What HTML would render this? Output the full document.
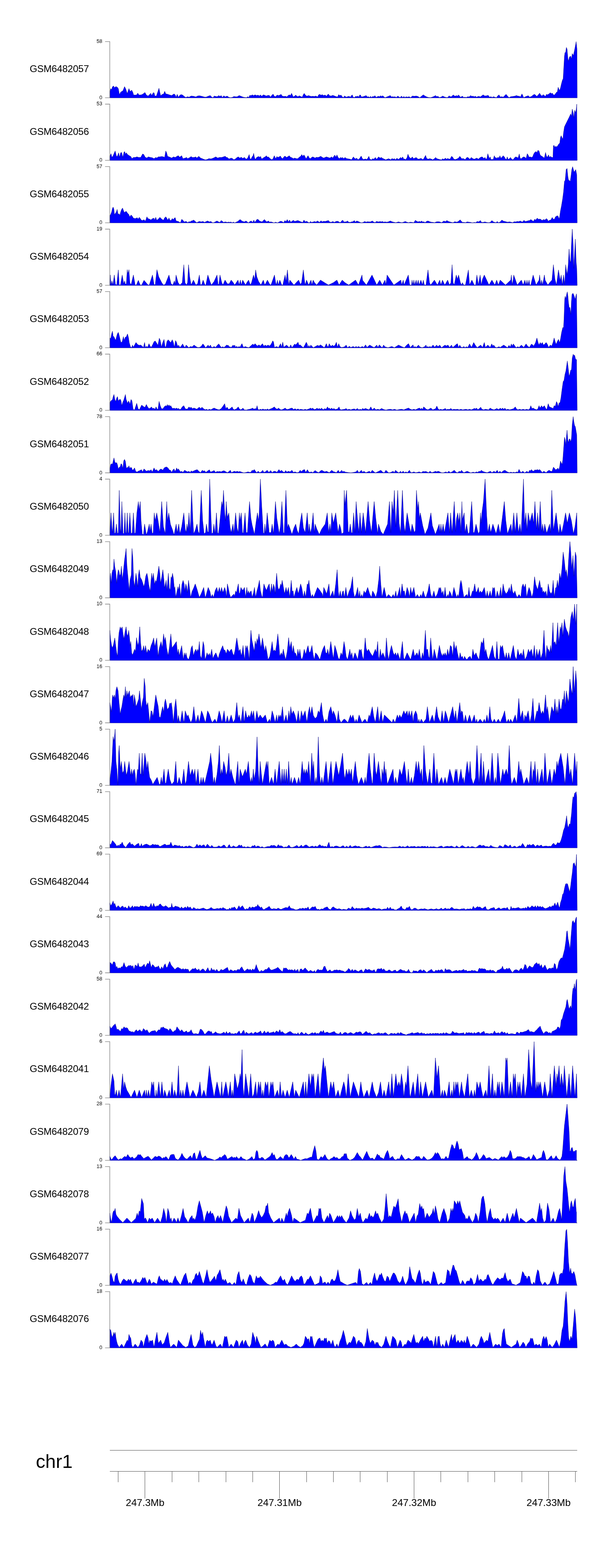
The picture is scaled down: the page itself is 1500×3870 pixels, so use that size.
<!DOCTYPE html><html><head><meta charset="utf-8"><title>Gviz tracks</title><style>html,body{margin:0;padding:0;background:#fff;}svg{display:block;}</style></head><body>
<svg width="1500" height="3870" viewBox="0 0 1500 3870">
<rect width="1500" height="3870" fill="#fff"/>
<g fill="#0000ff" stroke="#000080" stroke-width="0.7" stroke-linejoin="round">
<path d="M271,241.6L271,225.9L273.3,218.6L275.4,221.5L277.4,214.2L280.3,212.2L282.6,216.6L285.5,213.7L289,214.8L291.9,218.6L294.8,234L297.7,227.3L301.2,225.3L303.5,223.5L307.3,213.7L310.2,219.5L314,231.1L318.1,218.6L321,225.9L325,222.4L328,228.8L329.7,234.6L336.4,234.6L339.9,229.9L343.1,234.6L348.9,234L352.4,232.2L357.6,228.2L361.1,234.6L365.4,236.9L369.2,233.1L372.1,230.2L374.2,236L377.9,228.8L380.3,229.3L382,236.9L385.8,236.9L389.6,225.9L392.2,217.7L394.2,227.3L396.5,236.3L400.3,232.8L403.5,232.2L406.4,225.3L409,231.7L413.4,232.5L419.2,234.6L423.6,235.7L429.4,231.7L432.6,234.6L434.3,240.4L437.2,232.8L440.1,239.8L444.2,234.6L447.1,233.4L450.6,234.6L454.6,238.1L458.4,240.4L462.8,238.6L466.3,239.8L471.5,236.9L477.3,237.5L483.1,239.2L487.5,236.9L491.8,236.3L497.7,237.5L503.5,239.2L507.8,239.8L513.6,237.5L518.6,235.7L522.6,239.8L525.5,241L528.5,236.9L532.5,238.1L536,238.6L539.8,235.7L542.7,238.1L545.6,235.7L548.5,240.4L552.3,236.3L555.8,239.2L558.7,237.5L561,237.2L563.9,239.8L568.3,241L572.6,240.4L577,238.1L582.8,238.9L585.7,238.6L590.1,235.7L594.4,237.5L600.2,239.8L604.6,240.4L608.1,241L611,238.6L613.9,240.4L616.2,235.2L619.1,236L622.6,234L625.5,236L629.3,234L633.1,236L636.6,234.6L640,236.9L642.4,234L645.8,237.5L649.6,234L653.4,235.2L656.9,236.9L659.8,235.7L664.2,235.2L667.1,239.8L669.1,236.9L673.7,232.2L676.7,237.5L680.1,238.6L683.6,234.6L687.4,236L690.3,234.6L693.5,232.8L696.1,236.9L700.5,238.1L704,237.5L707.7,238.9L710.6,236L713.6,234L716.5,235.7L719.4,230.2L721.4,234.6L723.1,238.9L726.6,237.5L729.5,234.6L732.4,237.5L735.3,238.6L738.3,236.3L741.7,238.1L745.5,239.8L748.4,233.4L750.5,230.5L753.4,234.6L757.1,237.5L760.9,235.7L764.4,236.9L767.9,238.1L771.7,237.5L775.4,238.1L779.5,236.9L783.3,239.2L786.2,234L789.1,232.8L792,235.2L794.9,233.4L797.8,235.7L802.2,234.6L805.7,237.5L808,234L810.3,232.2L813.2,236.3L816.7,236.9L821.1,235.2L825.4,236.9L829.8,238.6L832.7,239.2L835.6,233.4L838.5,236L841.4,234.6L844.3,238.9L847.2,240.4L850.6,236.6L853.9,239.8L857.4,238.6L861.2,237.5L864.1,239.8L867,236L869,234L871.3,239.8L874.8,240.4L877.7,237.5L880.1,238.6L883,236.9L885.3,239.8L887.3,234.6L889.4,234.6L891.7,239.2L896,238.6L900.4,236.9L903.3,235.7L906.2,239.2L909.1,238.6L912,240.4L914.3,237.5L916.4,240.4L919.3,238.1L922.2,238.6L925.1,236L928,240.4L930.9,238.6L933.8,237.5L936.7,238.6L939.6,236L941.7,238.6L944,236L946.9,238.6L949.8,241L954.2,239.2L958.5,237.5L962.9,235.7L965.8,239.2L968.7,238.6L971.6,239.2L974.5,238.6L977.4,240.4L981.8,236.9L984.7,239.8L987.6,240.4L990.5,236.9L993.4,240.4L996.3,238.1L999.2,240.4L1002.1,238.6L1005,239.8L1009.4,238.6L1013.1,241L1017.2,236.9L1022.4,237.5L1026.8,236.9L1031.2,238.1L1035.5,241L1039.9,237.5L1044.2,234L1048.6,236.9L1053,239.2L1057.3,240.4L1061.7,241L1066,239.8L1070.4,238.1L1074.7,235.7L1077.7,238.6L1080.6,237.5L1083.5,240.4L1087.8,239.8L1092.2,236.9L1096.5,239.2L1100.9,240.4L1104.4,240.4L1108.2,236.3L1110.2,238.6L1114,238.6L1118.3,234L1121.2,236.9L1124.7,236.9L1127.1,235.7L1129.4,237.5L1131.4,234L1133.4,236.9L1135.8,239.8L1138.7,238.6L1141,237.2L1143.9,240.4L1146.8,239.8L1150.3,240.4L1154.1,238.6L1157,239.2L1161.3,235.7L1164.2,238.1L1167.2,236.9L1170.1,239.2L1172.4,236.9L1175.3,239.8L1178.2,238.6L1181.7,237.5L1184.6,239.2L1188.1,236.9L1191.9,234L1196.2,236.9L1200.6,236.3L1204.3,235.2L1207.8,239.8L1211.3,238.6L1214.2,240.4L1217.1,238.6L1220.9,239.8L1224.7,241L1227.6,236.9L1231.1,234L1234,239.2L1238.3,238.6L1241.3,239.8L1245,236.3L1248.5,232.8L1252,236.9L1255.8,241L1260.1,238.6L1264.5,238.1L1268.9,237.5L1274.7,235.7L1278.2,237.5L1281.1,236.9L1283.4,239.8L1286.3,234.6L1287.7,231.7L1289.8,235.7L1292.1,241L1296.5,238.6L1300.8,236.9L1303.7,236.3L1306.6,239.8L1311,238.1L1315.3,234.6L1318.3,232.8L1321.2,234.6L1324.1,238.1L1327.6,234.6L1331.3,229.9L1334.2,234.6L1337.1,236.9L1340,233.4L1343,235.7L1345.9,238.1L1347.9,232.8L1350.2,234L1354.6,231.7L1357.5,228.8L1360.4,231.1L1363.3,230.2L1364.7,233.4L1367.7,234.6L1370.6,231.1L1373.5,227L1374.9,227.6L1377,215.4L1378.7,219.5L1380.7,223.5L1382.8,217.1L1385.1,207L1387.4,198.3L1389.4,193.9L1390.9,167.7L1392.6,138.7L1393.8,130L1395.5,129.4L1397.3,116.9L1399,121.2L1401.1,144.5L1402.5,150.9L1404.8,141L1406.9,138.7L1408.3,139.3L1409.8,145.9L1411.8,132.3L1413.6,135.2L1414.7,136.4L1417.1,125.6L1419.4,114L1421.4,102.7L1423.4,121.2L1424,241.6Z"/>
<path d="M271,395.9L271,385.7L273.9,379.3L276.2,388.6L279.1,384.2L284.1,372.6L287,384.2L289,387.1L292.8,377L294.8,388.6L297.7,377L300.1,376.4L303,388.6L305.9,375.5L307.6,374.1L309.6,380.4L311.7,377L314.6,381.3L318.9,384.2L322.7,386.3L325.6,391.5L329.1,388.6L333.5,388.6L337.8,387.1L342.2,388.6L347.1,388.6L351.8,379.9L354.7,381.3L358.2,388L362.5,390L365.4,387.1L371.3,388.6L375.6,389.2L380,391.5L384.3,388.6L387.2,390L390.1,387.1L394.5,387.1L398.9,386.3L403.2,387.1L406.1,388.6L409,372.6L411.1,377L413.4,385.7L419.2,388L423.6,390L427.9,387.1L432.3,388.6L436.6,385.7L440.1,384.2L443,388L448.3,384.2L451.2,391.5L457,390L460.5,388.6L462.8,391.5L468.6,388.6L471.5,386.3L474.4,388.6L478.8,388.6L483.1,387.1L485.4,390L490.4,385.7L494.7,390L499.1,391.5L502,392.9L506.4,394.4L510.7,393.8L515.1,391.5L520.9,392.1L526.7,390L532.5,387.1L536.9,390L541.2,388.6L547.1,388.6L551.4,387.1L555.8,385.7L558.7,388.6L561,388.6L563.9,391.5L566.8,392.1L569.7,390L574.1,391.5L577,394.4L580.8,392.1L584.2,389.2L587.7,387.1L591.5,390L595.3,388L598.8,390.9L603.1,388.6L607.5,392.9L611,390L614.8,381.3L616.8,391.5L619.1,392.9L622,387.1L624.3,384.2L625.8,378.4L627.8,388.6L630.2,393.8L633.1,388.6L636,387.1L638.9,386.3L641.2,388.6L642.9,385.7L645.3,392.1L648.2,390.9L651.1,388.6L654.6,387.1L656.9,384.2L659.8,388L662.1,387.1L665,390L668.5,392.9L671.4,394.4L674.3,390L676.7,384.2L678.7,388.6L680.7,391.5L683,386.3L685.9,388.6L688.9,387.1L691.8,385.1L694.7,390L697.6,391.5L700.5,387.1L703.4,385.1L706.3,388.6L709.8,387.1L713.6,384.2L716.5,388L720.2,389.2L723.7,391.5L727.2,390L731,391.5L734.8,391.5L738.3,388L741.7,385.7L744.6,381.3L747,385.7L749.9,382.2L752.8,387.1L755.1,392.1L758,387.1L760,384.2L763,390L765.9,391.5L768.8,388.6L771.7,387.1L774.6,388.6L777.5,390L780.4,388L783.3,388.6L787.1,388L790.6,385.7L793.5,387.1L797.8,390L800.7,389.2L805.1,387.1L809.4,388.6L813.8,390L818.2,387.1L821.1,390L824,385.1L826,382.8L828.9,388L831.2,382.2L834.1,388.6L837.1,391.5L840,388.6L842.9,390L845.2,388.6L848.1,391.5L851,388.6L855.4,391.5L859.7,392.1L864.1,392.9L867,394.4L869,391.5L871.9,387.1L874.8,390.9L877.7,392.1L880.1,390L883,394.4L886.5,392.1L891.1,385.1L894,391.5L897.5,393.8L901,392.1L904.8,393.8L907.7,390L910,385.7L912.6,392.9L916.4,394.4L919.3,391.5L922.2,392.9L926,388.6L928.9,392.9L931.8,390L934.1,387.1L937.6,390L941.1,388.6L944,390.9L946.9,392.1L951.3,394.4L955.6,392.9L958.5,391.5L961.4,392.9L964.3,394.4L967.2,390.9L970.1,392.9L973,391.5L976.5,394.4L979.4,390L982.3,393.8L985.2,391.5L988.2,388.6L991.1,390.9L993.4,387.1L996.3,392.9L998.6,392.1L1000.6,394.4L1004.4,388.6L1006.5,380.4L1008.5,385.7L1011.4,390L1014.3,390.9L1017.2,387.1L1020.1,391.5L1023.9,390L1026.8,388.6L1029.7,391.5L1033.5,392.9L1037,390.9L1040.5,391.5L1043.4,394.4L1046.3,390L1050,383.4L1052.1,390L1055.9,392.9L1059.6,391.5L1063.1,392.1L1067.5,394.4L1071.8,391.5L1074.7,388.6L1077.7,391.5L1082,392.9L1084.9,393.8L1089.3,394.4L1092.2,391.5L1095.1,393.8L1098.6,390L1101.5,392.9L1104.4,390.9L1106.7,392.1L1110.2,392.9L1114,385.7L1116.9,388L1119.8,392.9L1124.1,393.8L1128.5,391.5L1131.4,390L1134.3,385.7L1136.4,388L1138.7,391.5L1141,391.5L1144.5,391.5L1147.4,394.4L1150.3,390L1153.2,388L1156.1,390L1159,392.9L1162.8,388.6L1166.6,391.5L1170.1,392.9L1173,391.5L1176.5,390L1180.2,392.9L1183.1,390L1186,388L1189.8,387.1L1193.3,390.9L1196.8,388.6L1199.1,393.8L1201.4,390L1203.5,379.3L1205.5,385.7L1207.3,391.5L1209.6,387.1L1211.3,394.4L1214.2,392.9L1216.6,394.4L1219.5,384.2L1221.8,390L1223.8,388.6L1225.8,391.5L1228.2,388L1231.1,390L1233.4,384.2L1235.4,390L1238.3,388.6L1241.3,384.2L1244.2,387.1L1247.1,392.1L1249.1,394.4L1251.4,387.1L1253.7,393.8L1256.7,391.5L1259.6,388.6L1262.5,392.9L1265.9,394.4L1268.9,390L1272.3,387.1L1276.1,388.6L1278.2,390L1281.1,379.9L1283.4,390.9L1286.3,391.5L1289.2,388.6L1292.1,387.1L1295.6,388.6L1297.9,391.5L1300.8,379.3L1303.1,382.8L1305.2,388L1308.1,387.1L1311,388.6L1313.9,387.4L1316.8,379.9L1319.7,375.5L1322.6,374.1L1324.6,377L1327,371.1L1329.9,372.6L1332.2,381.3L1334.2,384.2L1337.1,385.7L1340.9,388.6L1343,390L1345.9,376.4L1347.9,384.2L1350.2,388.6L1353.1,382.2L1356,388.6L1358.4,385.7L1360.4,388L1362.4,388.6L1364.2,388.6L1365.3,359.5L1367.1,358.9L1368.8,363.9L1370.6,361L1372.9,362.4L1375.2,361L1377.8,356.6L1381,353.1L1382.8,339.2L1384.5,334.8L1386.5,339.8L1388.6,343.5L1390.3,327.6L1392.6,313L1395.3,307.2L1398.2,301.4L1401.1,295.6L1404,289.8L1406,285.4L1407.8,281.1L1409.8,286.9L1411.8,269.4L1414.1,278.2L1415.9,291.2L1417.6,272.3L1420,278.2L1421.7,269.4L1422.9,257.2L1424,395.9Z"/>
<path d="M271,550.1L271,531.9L273.3,529L275.4,523.2L277.4,514.5L279.1,511L280.9,516L282.6,530.5L284.9,526.1L287,523.2L289,516.8L291.3,529L293.7,527.6L295.7,531.4L297.7,523.2L300.1,516.8L302.4,513.4L304.4,518.9L306.5,524.7L308.8,522.7L311.7,521.8L314.6,526.1L317.5,529L320.4,535.4L323.3,530.5L326.2,533.4L329.1,538.3L332,539.2L334.9,539.2L338.4,537.2L340.7,540.7L343.6,536.3L346,539.2L348.9,543.6L351.8,544.2L355.3,542.1L358.2,545.9L360.5,540.7L362.5,534.9L364.6,539.2L366.9,540.1L369.8,541.2L372.7,543L375,540.1L377.9,539.2L380,538.3L381.4,543.6L384.3,536.3L386.7,543.6L390.1,541.2L394.5,536.3L398.9,540.7L403.2,543.6L406.1,537.8L409,534.9L411.9,539.2L414,543.6L416.9,537.8L419.2,543.6L422.1,544.2L425,539.2L427.9,542.1L430.2,538.3L432.3,537.2L434.3,545L437.2,545.9L440.1,546.5L442.4,548.2L445.3,549.4L448.3,541.2L451.2,543.6L454.6,547.9L457.6,546.5L460.5,547.1L463.4,549.4L465.7,547.1L469.2,547.6L472.1,545.3L475,544.7L477.9,543L481.7,546.5L485.4,549.4L488.9,547.6L492.4,546.5L496.2,547.6L500.6,546.5L504.9,548.8L507.8,547.1L512.2,545.3L516.5,547.6L520.3,546.5L523.8,549.4L527.3,549.4L531.1,547.6L535.4,545.3L538.9,547.6L542.7,548.8L545.6,544.2L548.5,545.9L551.4,548.8L555.8,547.6L561,548.8L564.5,547.9L567.4,548.8L569.7,547.6L572.6,550L575.5,547.9L579,550L582.8,548.2L586.6,546.5L590.1,543.6L592.4,541.8L595.3,544.2L598.8,546.5L603.1,547.6L606.9,545.3L610.4,547.9L612.7,550L616.2,547.1L619.7,545.3L623.5,548.8L626.4,543L628.4,548.8L631.3,545.3L634.2,541.2L637.1,541.8L640,545.3L642.9,546.5L646.7,547.6L649.6,544.2L652.5,541.8L655.4,545.3L658.3,547.6L662.1,545.3L665,548.2L668.5,547.6L672.9,548.8L675.8,550L680.1,548.2L684.5,550L688.9,547.6L692.3,545.9L695.2,546.5L699.9,549.4L702.8,544.2L705.7,547.1L708.6,541.8L711.5,547.6L714.4,543L717.3,548.2L720.8,545.9L723.7,543.6L727.2,546.5L731,545.3L734.8,544.2L738.8,545.9L742.6,547.6L747,548.8L749.9,543L752.8,547.6L756.3,545.9L760,548.2L763,550L765.9,546.5L768.8,548.8L773.1,547.6L776.6,546.5L779.5,548.2L782.4,545.3L785.3,546.5L788.2,548.8L792,544.7L794.9,547.6L798.7,545.9L802.2,546.5L806.5,545.3L810.3,544.2L813.8,548.2L818.2,548.2L821.1,546.5L824.8,548.8L827.8,547.1L831.2,545.9L834.7,546.5L837.6,548.8L840.5,548.8L843.4,544.7L845.8,543.6L848.7,548.2L851,547.6L853.9,547.6L857.4,545.3L860.3,548.2L864.1,548.8L867,547.6L870.8,547.1L874.2,544.2L876.6,548.2L880.1,545.3L883.5,546.5L887.3,548.2L891.7,550L896,548.8L899.8,546.5L903.3,548.2L906.8,547.1L910.6,547.6L914.3,547.6L918.4,545.3L922.2,548.2L926,549.4L928,546.5L931.8,547.1L934.7,547.6L937.6,546.5L940.5,547.6L943.4,546.5L946.3,548.2L949.8,547.6L954.2,548.2L957.9,547.6L962.9,545.3L966.7,547.1L970.7,548.2L976.5,549.4L983.2,547.6L987.6,548.8L991.9,549.4L995.7,548.2L999.8,546.5L1003.6,548.2L1007.9,549.4L1012.3,548.2L1016.6,548.8L1021,549.4L1024.8,543.6L1027.7,545.9L1031.2,547.6L1034.6,546.5L1037.6,547.6L1040.5,545.3L1042.8,548.2L1045.7,547.1L1048.6,549.4L1052.1,546.5L1055.9,545.3L1059.6,547.1L1063.7,548.2L1068.4,548.8L1072.4,549.4L1076.2,547.6L1080.6,547.1L1084.9,547.6L1089.3,549.4L1092.2,547.6L1095.1,545.3L1098.6,547.1L1102.6,544.2L1106.1,546.5L1109.6,547.6L1114,548.8L1117.8,549.4L1121.8,547.1L1126.5,548.2L1130,547.1L1132.9,544.7L1135.2,542.4L1138.1,545.9L1141,548.8L1145.4,548.8L1148.3,549.4L1152.6,547.6L1157,548.2L1161.3,548.8L1165.7,550L1170.1,548.8L1173.5,549.4L1177.3,546.5L1181.1,547.6L1185.2,544.2L1188.1,548.8L1191.9,548.8L1196.2,547.6L1200.6,548.8L1204.9,549.4L1209.3,548.8L1213.6,544.2L1217.1,547.6L1220.9,548.8L1223.8,549.4L1226.7,546.5L1229.6,549.4L1233.4,548.2L1238.3,543L1242.1,545.9L1245.6,546.5L1249.1,547.6L1252.9,548.2L1256.7,547.6L1260.7,548.2L1264.5,549.4L1268.9,547.1L1272.3,547.6L1276.1,546.5L1279.9,547.1L1283.4,545.3L1286.3,547.1L1289.8,547.6L1292.7,543.6L1295.6,546.5L1299.4,545.9L1303.1,544.7L1306.6,544.2L1309.5,541.8L1313,544.2L1315.9,546.5L1318.8,541.2L1321.7,543L1325.5,538.3L1328.4,541.2L1331.3,540.7L1334.2,541.2L1337.1,544.2L1340.9,541.8L1344.4,543L1347.9,539.5L1350.2,541.2L1352.5,545.9L1355.4,543.6L1358.9,543L1362.4,536.6L1364.7,540.7L1367.7,541.2L1370.6,534.9L1374.9,532.5L1377,533.7L1379.3,540.7L1380.7,534.9L1382.8,520.3L1385.1,508.7L1388,491.3L1390.3,473.8L1392.6,447.7L1394.4,444.8L1396.7,418.6L1399,415.7L1401.1,436.1L1402.5,444.2L1404.8,445.4L1406.9,447.7L1408.9,433.2L1410.7,418.6L1412.7,411.4L1414.7,418.6L1416.5,425L1418.5,421.5L1420.5,418.6L1422.9,431.7L1424,550.1Z"/>
<path d="M271,704.4L271,704.3L272.2,678.7L273.9,703.4L276.2,693.2L278.6,703.4L282,678.7L284.9,701.9L287.9,703.4L291.9,666.2L294.2,703.4L297.2,703.4L301.5,678.7L305.3,700.5L307.6,693.2L309.4,701.9L311.7,700.5L314,665.6L315.7,675.8L318.1,665.6L320.4,697.6L323.3,703.4L329.1,678.7L333.5,703.4L336.4,703.4L341.3,691.8L346,703.4L349.5,703.4L355.3,691.8L365.4,703.4L368.3,703.4L376.2,678.7L380,701.9L382.9,703.4L387.2,665.6L391.6,683.1L398.9,697.6L403.2,703.4L407.6,701.9L416.9,678.7L422.1,700.5L426.5,703.4L430.2,693.2L432.3,701.9L434.3,678.7L439.5,697.6L443.9,703.4L449.7,697.6L453.5,653.4L456.4,697.6L459.9,703.4L462.8,697.6L465.1,653.4L468,683.1L471.5,703.4L477.3,691.2L483.1,703.4L487.5,700.5L491.8,678.7L494.7,703.4L497.7,701.9L501.1,691.2L505.8,703.4L507.8,703.4L512.8,678.7L518,694.7L521.5,703.4L528.2,694.7L535.4,678.7L537.8,700.5L539.8,703.4L542.7,678.7L547.1,697.6L550,703.4L555.2,691.2L561,700.5L565.4,700.5L570.3,691.2L575.5,697.6L579,703.4L587.2,691.2L590.1,703.4L593,691.2L595.3,703.4L598.8,691.2L602.3,697.6L606,703.4L608.9,697.6L613.3,691.2L617.7,703.4L620.6,697.6L625.5,678.7L628.4,690.3L630.7,666.2L633.6,683.1L638,694.7L643.8,703.4L649.6,691.2L653.4,703.4L659.8,691.2L665.6,701.9L668.5,703.4L677.2,678.7L680.1,697.6L681.6,703.4L684.5,691.2L686.5,703.4L690.3,691.2L695.2,703.4L697.6,703.4L703.4,678.7L705.7,694.7L709.2,666.2L711.5,693.2L712.7,703.4L715,691.2L720.2,697.6L725.2,703.4L736.8,691.2L741.2,701.9L744.1,697.6L748.4,666.2L751.3,693.2L752.8,703.4L756.3,691.2L761.5,703.4L767.3,691.2L769.6,703.4L772.5,691.2L776,697.6L781.3,703.4L790.6,691.2L800.7,697.6L810.3,703.4L822.5,697.6L831.2,691.2L836.5,703.4L844.3,691.2L851,697.6L860.3,703.4L877.2,691.2L884.4,703.4L893.1,678.7L894.6,691.8L903.9,703.4L917.8,678.7L929.5,703.4L936.7,691.2L943.4,703.4L949.8,691.2L952.1,703.4L955,678.7L971.6,703.4L989,691.2L991.1,703.4L994.8,691.2L996.9,703.4L1007.3,678.7L1010.8,703.4L1015.2,703.4L1016.6,691.2L1019,703.4L1021,691.2L1023,703.4L1026.8,691.2L1028.8,703.4L1031.7,691.2L1034.1,703.4L1038.4,691.2L1042.2,703.4L1044.2,691.2L1047.1,703.4L1050.9,703.4L1055.9,666.2L1059.6,697.6L1062.5,703.4L1071.8,691.2L1079.1,703.4L1084.9,691.2L1087.8,703.4L1091.6,691.2L1097.4,703.4L1104.4,691.2L1109,703.4L1112.5,697.6L1115.4,653.4L1117.8,697.6L1120.7,703.4L1125.6,678.7L1128.5,688.9L1131.4,678.7L1135.8,697.6L1138.7,703.4L1141,697.6L1143.9,703.4L1148.3,703.4L1155.5,666.2L1158.4,703.4L1164.2,691.2L1170.1,703.4L1173.5,703.4L1176.5,678.7L1180.2,703.4L1184.6,678.7L1187.5,703.4L1190.4,688.9L1194.8,678.7L1206.4,703.4L1213.6,691.2L1220.9,703.4L1225.3,691.2L1229.6,703.4L1234,691.2L1247.1,703.4L1260.1,691.2L1261.6,678.7L1263.6,703.4L1265.9,691.2L1267.4,678.7L1276.1,703.4L1286.3,691.2L1290.6,703.4L1295,691.2L1297.9,703.4L1300.2,691.2L1302.3,703.4L1305.2,691.2L1307.2,703.4L1309.5,703.4L1315.3,678.7L1322.6,703.4L1329.9,691.2L1331.3,678.7L1334.2,703.4L1336.3,691.2L1338.6,703.4L1340.9,691.2L1343,678.7L1345,691.8L1351.7,703.4L1356,697.6L1361.8,691.2L1365.3,653.4L1369.1,688.9L1372.9,703.4L1377.8,666.2L1382.2,693.2L1384.5,678.7L1387.4,703.4L1390.3,678.7L1393.2,701.9L1395.5,653.4L1399,678.7L1401.9,654L1404,614.8L1406,642.4L1407.8,648.2L1409.8,604.6L1411.8,565.5L1414.1,604.6L1415.6,662.7L1417.1,633.7L1419.4,590.1L1421.4,645.3L1422.9,662.7L1424,704.4Z"/>
<path d="M271,858.6L271,834.1L273.3,835.6L275.4,824L277.4,817.3L279.1,829.8L281.2,831.2L283.2,835.6L285.5,839.9L287.9,829.8L289.6,824L291.9,820.2L294.2,828.3L296.6,838.5L298.6,845.8L301.5,842.9L304.4,830.7L306.5,839.9L308.8,832.7L311.7,831.2L314.6,824L316.9,832.7L318.9,845.8L321.9,855.9L324.8,858L326.8,851.6L329.1,856.8L332,851.6L335.5,845.2L339.3,850.1L343.1,852.2L347.1,851.6L350.9,854.5L353.8,857.4L356.7,845.2L358.8,857.4L361.7,854.5L364,857.4L367.5,848.1L369.8,853L372.7,857.4L376.2,851.6L380,843.4L382.9,841.4L386.7,847.2L389.6,852.2L393,834.7L395.4,839.9L398.3,856.8L401.2,846.3L404.7,837.6L407,854.5L409,857.4L411.9,842.9L414.8,838.5L417.7,841.4L420.6,845.8L422.7,842.9L425,838.5L427.9,845.8L430.2,857.4L433.1,840.5L435.2,844.3L438.1,853.9L441,852.2L443.9,857.4L446.8,854.5L450.6,848.7L453.5,854.5L456.4,857.4L459.3,851.6L462.8,855.1L465.7,858L470,855.1L473.8,856.2L478.8,851.6L483.1,855.1L487.5,857.4L491.8,857.4L496.2,855.1L500.6,848.7L503.5,852.2L507,858L509.9,855.6L513.6,851.6L515.7,855.9L519.4,851.6L521.5,856.8L524.4,857.4L528.2,855.1L531.9,857.4L536,852.2L539.8,848.7L543.6,854.5L546.5,857.4L549.4,855.6L552.3,857.4L555.8,855.1L558.7,851.6L561,852.4L563.3,852.2L565.4,856.2L567.4,855.6L569.7,857.4L572.6,855.1L574.9,851.6L577,853.9L579,851.6L581.3,856.8L584.2,854.5L586.6,857.4L589.5,855.1L592.4,856.8L594.4,852.2L597,848.1L599.4,854.5L601.7,857.4L604.6,855.1L608.9,856.8L613.9,858L619.1,853.3L623.5,849.2L626.4,851.6L629.3,848.1L632.2,851.6L635.1,853.9L638.9,851L642.4,853.9L647.6,848.1L651.1,854.5L654,851.6L657.5,853.9L661.3,851.6L665,853.9L668.5,850.1L670.8,845.8L672.9,841.1L674.9,844.3L677.2,857.4L680.1,856.2L683,855.1L686.5,858L688.9,853.9L692.3,848.1L694.7,856.8L697.6,844.3L699.9,856.8L703.4,854.5L706.9,851.6L710.6,855.1L713.6,858L717.3,851L720.2,857.4L723.1,854.5L726.6,849.2L729.5,851L732.4,848.1L735.3,844.6L737.7,852.2L740.6,851L744.6,855.1L748.4,858L752.2,851.6L755.7,844.6L758,849.2L759.8,857.4L762.1,852.2L764.4,857.4L766.7,851.6L769.6,854.5L773.1,858L778.4,855.1L783.3,852.2L787.1,853.9L790.6,851L794.9,853.9L799.9,858L802.2,854.5L805.1,848.1L807.4,853.9L809.4,856.8L812.4,848.1L814.4,852.2L817.3,854.5L820.2,851.6L823.1,854.5L826.9,851.6L829.8,844.6L832.7,856.8L835.6,848.1L838.5,855.1L842.3,857.4L847.2,856.8L851,855.2L853.9,851.6L857.4,858L862,854.5L865.5,857.4L871.3,855.1L875.7,857.4L878.6,854.5L880.6,857.4L884.4,855.1L888.8,857.4L894,855.1L897.5,857.4L901.9,851L905.6,857.4L912,851.6L920.7,856.8L923.6,857.4L929.5,851.6L932.4,857.4L935.8,851L941.1,856.8L943.4,857.4L946.3,851.6L949.8,855.9L957.1,858L966.7,855.1L973,858L983.2,851.6L991.9,855.9L997.7,858L1003.6,851.6L1007.9,848.1L1010.2,853L1012.3,858L1015.2,854.5L1019,851L1021,857.4L1023.9,855.1L1026.8,857.4L1032.6,851.6L1035.5,855.9L1041.3,858L1047.1,855.9L1050.9,851.6L1053,856.8L1055.9,855.1L1057.9,857.4L1060.8,854.5L1063.1,857.4L1068.4,851.6L1072.4,856.8L1077.1,851.6L1080.6,855.6L1084.9,851.6L1089.3,858L1098,851.6L1100.9,853.9L1105.3,851.6L1109,857.4L1114,851.6L1116.9,857.4L1120.7,854.5L1125.6,850.1L1128.5,848.1L1131.4,857.4L1134.3,851.6L1137.2,856.8L1141,857.4L1144.5,855.1L1147.4,858L1150.3,855.6L1154.1,857.4L1158.4,848.7L1161.3,853.9L1163.7,856.8L1168.6,845.2L1172.4,851.6L1177.3,858L1186,851.6L1190.4,857.4L1194.8,845.2L1197.7,857.4L1203.5,851.6L1209.3,857.4L1213.1,848.7L1216,853.9L1218,851.6L1221.8,856.8L1225.3,858L1231.1,855.6L1234,857.4L1242.7,851.6L1252,858L1255.8,852.2L1258.7,856.8L1261.6,848.7L1263.6,853.9L1266.5,848.7L1270.3,853.9L1273.2,858L1277.6,855.6L1280.5,857.4L1286.3,851.6L1292.1,857.4L1297.9,848.7L1301.4,853.9L1306.1,857.4L1311,849.2L1313.9,851L1316.8,853.9L1321.2,845.8L1324.6,834.1L1327.6,845.8L1329.9,851.6L1332.8,845.2L1335.1,849.2L1338,845.2L1340.9,851.6L1344.4,848.7L1347.3,845.2L1350.2,849.2L1353.7,857.4L1357.5,851.6L1361.3,853.9L1364.7,844.3L1367.1,834.1L1369.1,841.4L1372,850.1L1374.9,842.9L1377.8,837.6L1380.7,845.8L1382.8,837L1385.7,819.6L1388.6,808L1390.3,809.4L1391.5,787.6L1393.2,738.2L1394.4,731L1396.1,738.2L1398.2,725.2L1399.6,720.2L1401.1,731L1402.5,747L1404.3,760L1406,758.6L1408.3,776L1409.8,744.1L1411.2,726.6L1413.6,723.7L1415.6,728.1L1417.6,733.9L1419.4,739.7L1420.5,731L1422.3,725.2L1424,858.6Z"/>
<path d="M271,1012.9L271,994L273.3,989.6L275.4,988.1L277.4,986.7L279.1,979.4L281.2,973.6L283.2,985.2L285.5,991.1L287.9,982.3L289.9,978.8L291.9,989.6L294.2,986.7L296.6,985.2L298.6,989.6L300.6,1001.2L303,992.5L305.3,987.6L307.3,980.9L309.4,973.6L311.1,985.2L313.1,991.1L315.2,995.4L316.9,989.6L318.9,992.5L320.4,998.3L323.3,985.8L325.6,989.6L328,1007L329.7,1012L332,1011.4L334.9,1002.7L337.3,995.4L340.7,1008.5L343.6,1011.4L346.6,1005.6L349.5,999.8L353.8,1003.3L357.6,1005.6L361.1,998.3L364,1004.1L367.5,1008.5L371.3,1007L373.3,1004.1L377.1,1008.5L380,1007L382,1011.4L384.9,1004.1L387.2,1008.5L389.6,1011.4L392.5,990.5L395.4,1001.2L398.3,1008.5L401.8,1009.1L405.2,1004.1L408.2,1001.2L411.1,1002.7L412.8,998.3L414.8,1002.7L416.9,999.2L419.2,1002.7L421.5,1001.2L423.6,1005.6L426.5,1008.5L429.4,1007L432.3,1009.1L435.2,1007L438.1,1009.1L441,1007.9L443.9,1011.4L446.8,1008.5L449.7,1004.1L453.5,1001.2L457,1008.5L459.9,1009.9L462.8,1009.1L466.3,1004.1L468.6,1007L471.5,1005L474.4,1008.5L478.8,1007L482.5,1008.5L485.4,1009.9L488.9,1007L491.8,1005L495.3,1008.5L498.2,1005L502,1008.5L506.4,1011.4L509.3,1009.9L512.8,1012L516.5,1009.9L520.3,1011.4L523.8,1009.1L528.2,1007L532.5,1009.1L536.9,1010.8L541.2,1011.4L545.6,1008.5L550,1002.7L554.3,996.3L557.2,1008.5L559.5,1005.6L561,1005.6L563.9,1010.8L566.8,1009.1L569.7,1007L572.6,1004.1L575.5,1009.9L578.4,1011.4L581.3,1009.9L584.2,1008.5L587.7,1004.1L590.1,1008.5L593.5,1011.4L596.5,1009.9L599.4,1007L602.3,1011.4L607.5,1012L611.9,1010.8L616.2,1009.9L620.6,1008.5L623.5,1007L626.4,1009.9L629.3,1008.5L632.2,1009.1L634.2,1001.2L636.6,1010.8L639.5,1011.4L642.9,1009.9L645.8,1011.4L648.8,1009.1L651.7,1011.4L654,1009.9L656.9,1011.4L659.8,1009.1L662.7,1011.4L665.6,1009.9L669.1,1008.5L672.9,1007L676.7,1004.1L680.1,1007.9L683.6,1009.9L687.4,1007L691.2,1010.8L694.7,1011.4L699,1009.9L703.4,1007L707.7,1010.8L712.1,1009.9L716.5,1007.9L720.8,1007L724.3,1010.8L728.1,1008.5L731,1011.4L735.3,1009.1L738.3,1011.4L741.7,1009.9L745.5,1010.8L749.3,1011.4L752.8,1009.9L756.3,1011.4L760,1009.9L763,1009.1L765.9,1007L768.8,1009.1L771.7,1007L774.6,1010.8L778.9,1009.9L782.4,1007L784.7,1009.9L787.7,1007.9L790.6,1009.9L793.5,1007L797,1011.4L800.7,1008.5L804.5,1009.9L808,1004.1L810.3,1008.5L812.4,1007L815.3,1009.9L818.2,1007L821.1,1009.9L824,1007.9L826.9,1010.8L830.7,1009.9L833.6,1008.5L836.5,1004.1L838.5,1009.9L841.4,1011.4L845.8,1010.8L851,1009.9L853.9,1007.9L856.8,1011.4L861.2,1009.9L865.5,1011.4L869.9,1009.9L874.2,1009.1L877.7,1011.4L881.5,1007.9L885.3,1011.4L888.8,1009.9L891.7,1011.4L894.6,1007.9L897.5,1009.9L901.9,1007.9L906.2,1009.9L910.6,1011.4L914.9,1004.1L918.4,1011.4L923.6,1007L927.1,1011.4L932.4,1009.9L936.7,1011.4L941.1,1007.9L946.9,1010.8L952.1,1012L957.1,1010.8L962.9,1009.9L968.7,1011.4L973,1009.9L978.9,1012L984.7,1010.8L990.5,1009.9L996.3,1011.4L1002.1,1009.1L1007.9,1007L1012.3,1009.9L1016.6,1011.4L1021,1009.9L1025.3,1011.4L1029.7,1009.1L1034.6,1007L1038.4,1009.9L1040.5,1007L1042.8,1011.4L1045.1,1004.1L1048.6,1007L1051.5,1009.9L1055.9,1011.4L1059.6,1009.1L1063.1,1007L1067.5,1011.4L1071.8,1009.9L1074.7,1008.5L1077.7,1002.1L1080.6,1008.5L1083.5,1011.4L1087.8,1009.9L1090.7,1011.4L1095.1,1009.9L1098.6,1007.9L1101.5,1011.4L1104.4,1009.9L1108.2,1010.8L1112.5,1007.9L1115.4,1011.4L1119.8,1009.9L1124.1,1010.8L1128.5,1009.9L1132.9,1011.4L1137.2,1009.9L1141,1011.4L1145.4,1010.8L1149.7,1009.9L1154.1,1011.4L1158.4,1009.9L1162.8,1011.4L1166.6,1009.9L1170.1,1007.9L1173.5,1009.1L1175.9,1007L1178.8,1011.4L1182.3,1008.5L1186,1005L1188.9,1009.9L1193.3,1011.4L1197.7,1009.9L1202,1010.8L1205.5,1011.4L1209.3,1007L1213.6,1009.9L1218.9,1011.4L1222.4,1009.9L1225.8,1007.9L1228.2,1009.9L1231.1,1010.8L1234,1007L1236.9,1009.9L1240.4,1007L1242.7,1010.8L1245.6,1007L1248.5,1011.4L1252.9,1009.9L1257.2,1011.4L1263,1009.9L1267.4,1008.5L1271.2,1004.1L1274.1,1009.1L1277.6,1011.4L1281.9,1009.9L1286.3,1011.4L1290.6,1009.9L1295,1011.4L1299.4,1009.9L1303.7,1011.4L1307.2,1008.5L1309.5,1001.2L1312.4,1008.5L1315.3,1007L1319.7,1009.9L1324.6,1011.4L1327,1008.5L1329.9,1001.2L1332.2,1007L1334.2,1004.1L1336.3,1001.2L1338.6,1005.6L1340.9,1003.3L1343,1001.2L1345.9,1007L1348.8,1011.4L1352.5,996.3L1355.4,1004.1L1358.9,1005.6L1362.4,1007L1364.7,1008.5L1367.1,1001.2L1370,1002.7L1372.9,991.1L1375.2,995.4L1377,1004.1L1379.3,994.5L1381.6,994L1383.9,982.3L1386.5,962L1389.4,941.7L1391.5,938.7L1393.8,924.2L1396.1,915.5L1398.2,901L1399.6,890.8L1401.7,906.8L1404,928.6L1406,922.8L1407.8,914L1409.8,912.6L1411.8,883.5L1414.1,874.2L1415.9,877.7L1417.6,876.3L1420,886.4L1422.4,887.6L1424,1012.9Z"/>
<path d="M271,1167.2L271,1157.1L273.3,1146L275.4,1144.6L277.4,1146L279.1,1138.8L281.2,1130.1L283.2,1139.7L285.5,1143.1L287.9,1141.7L289.9,1147.5L291.9,1157.7L294.2,1153.3L296.6,1151.9L298.6,1144.6L300.6,1146L303,1156.2L305.3,1137.3L307.3,1133.8L309.4,1138.8L311.7,1156.2L314,1153.3L316,1154.2L318.1,1149.5L320.4,1156.2L322.7,1153.3L324.8,1154.8L326.8,1160.6L329.1,1159.1L332,1154.8L334.9,1163.5L338.4,1164.9L340.7,1162.9L343.6,1162L346.6,1160.6L348.9,1159.1L351.8,1164.9L355.3,1157.1L358.2,1160L361.1,1162.9L365.4,1161.2L369.8,1162L372.7,1159.1L375.6,1164.9L380,1154.8L382.9,1160.6L386.7,1159.1L390.1,1163.5L393,1160.6L395.9,1157.7L398.9,1158.2L401.8,1160.6L404.7,1155.3L407.6,1153.3L411.1,1152.4L414.8,1155.3L417.7,1160L420.6,1160.6L423.6,1165.8L426.5,1160L429.4,1157.1L431.4,1162.9L433.7,1160.6L435.8,1154.8L438.1,1160L440.1,1157.1L442.4,1160.6L445.3,1164.6L448.3,1162.9L451.2,1165.8L455.5,1160.6L459.3,1162.9L462.8,1164.6L466.3,1162.9L469.2,1166.4L471.5,1162L474.4,1164.1L477.9,1162.3L481.7,1160.6L486.6,1159.1L490.4,1162.9L494.7,1166.4L499.1,1160.6L502,1162.9L504.9,1161.7L507.8,1165.8L511.6,1162.9L516.5,1159.4L519.4,1164.9L523.8,1163.5L528.2,1161.2L531.9,1165.8L535.4,1163.5L538.9,1164.1L542.7,1163.5L545.6,1164.6L548.5,1162.9L552.3,1161.7L555.8,1163.5L561,1166.4L564.5,1164.1L568.3,1160.6L571.2,1166.4L575.5,1164.1L579,1162.9L581.9,1164.6L584.8,1162.9L588.6,1164.6L591.5,1163.5L595.9,1165.2L601.7,1167L607.5,1165.8L611.9,1164.6L616.2,1165.8L619.1,1165.2L622,1160.6L624.3,1161.7L627.3,1158.8L630.7,1163.5L633.1,1166.4L637.1,1162.9L640.9,1166.4L644.7,1164.6L648.2,1160.6L651.1,1165.8L654.6,1164.6L659.2,1160.6L663.3,1165.8L667.9,1161.2L671.4,1166.4L675.8,1162.9L680.1,1163.5L683,1165.8L688.3,1158.8L691.2,1163.5L694.7,1160.6L698.2,1164.6L701.9,1165.8L704.8,1161.2L707.7,1165.2L711.5,1162.9L715.6,1164.6L720.2,1160.6L723.7,1165.8L728.1,1164.6L732.4,1166.4L736.8,1165.8L740.6,1160.6L743.5,1164.1L747,1160.6L751.3,1158.8L754.2,1165.8L758.6,1159.1L761.5,1164.6L764.4,1165.8L767.9,1164.6L771.7,1166.4L777.5,1161.2L781.8,1164.6L786.2,1166.4L790.6,1162.3L794,1160.6L797.8,1162.9L801.6,1164.6L805.1,1162.9L808.6,1164.6L812.4,1166.4L818.2,1160.6L822.5,1164.1L826.9,1165.2L829.8,1166.4L834.7,1160.6L837.1,1165.8L840,1164.1L842.9,1160.6L845.8,1164.6L848.7,1162.9L851,1164.9L856.8,1165.8L865.5,1167L872.8,1165.8L878.6,1164.6L881.5,1160.6L885.3,1166.4L888.2,1164.1L891.7,1160.6L894.6,1165.8L897.5,1162.9L902.7,1166.4L907.7,1164.6L911.4,1162.9L914.3,1166.4L918.4,1160.6L922.2,1164.1L926,1167L933.8,1163.5L939.6,1160.6L944.6,1165.8L948.3,1166.4L952.1,1160.6L955.6,1164.1L959.1,1167L964.3,1165.8L970.1,1162.9L972.5,1166.4L975.9,1160.6L979.4,1164.1L984.1,1167L988.2,1162.9L990.5,1166.4L994.8,1162.9L997.7,1166.4L1001.5,1164.6L1005,1166.4L1010.2,1160.6L1013.1,1165.8L1016.1,1166.4L1021,1164.6L1025.3,1166.4L1029.7,1165.8L1034.1,1164.6L1039.3,1166.4L1043.4,1163.5L1047.1,1164.1L1050.9,1163.5L1054.4,1165.2L1057.3,1166.4L1060.8,1162.9L1065.4,1166.4L1071.3,1164.6L1074.2,1162.9L1077.1,1164.6L1081.1,1162.9L1084.9,1164.6L1088.7,1166.4L1092.8,1167L1096.5,1165.8L1100.3,1164.6L1103.2,1166.4L1107.3,1162.9L1111.1,1166.4L1115.4,1164.6L1120.7,1160.6L1125.6,1165.8L1129.4,1166.4L1132.9,1162.9L1135.8,1164.6L1138.7,1160.6L1141,1163.8L1144.5,1166.4L1152.6,1162.9L1161.3,1167L1167.2,1165.2L1171.5,1166.4L1175.3,1164.6L1178.8,1165.8L1181.7,1162.9L1184.6,1164.1L1187.5,1160.6L1191,1163.5L1196.2,1165.2L1202,1166.4L1210.2,1162.9L1213.6,1166.4L1218.9,1162.9L1222.4,1165.8L1226.7,1160.6L1229.6,1166.4L1233.4,1162.9L1236.9,1166.4L1241.3,1162.3L1245.6,1160.6L1251.4,1164.6L1256.7,1166.4L1260.1,1165.2L1264.5,1166.4L1267.4,1165.2L1270.3,1166.4L1274.7,1164.6L1277.6,1165.8L1280.5,1158.2L1282.8,1162.9L1285.7,1166.4L1289.8,1162.9L1294.4,1167L1300.2,1162.9L1303.1,1166.4L1306.6,1160.6L1309,1162.3L1311,1158.8L1313.9,1162.3L1316.8,1162.9L1319.7,1159.4L1322.6,1160.6L1325.5,1158.8L1328.4,1160.6L1331.3,1158.8L1334.2,1161.7L1338,1166.4L1341.5,1162.9L1347.3,1166.4L1350.2,1163.5L1354.6,1160.6L1358.4,1162.9L1361.8,1163.5L1365.3,1153L1367.7,1155.3L1370.6,1159.4L1373.5,1158.2L1376.4,1155.3L1378.7,1160L1380.7,1151.9L1382.8,1137.9L1385.1,1143.1L1386.8,1146L1388.6,1134.4L1390.3,1111.2L1392.6,1079.2L1394.4,1085L1396.1,1099L1397.3,1079.2L1399,1061.8L1400.8,1085L1402.5,1092.3L1404.3,1083.6L1406,1083.6L1407.8,1090.8L1409.8,1082.1L1411.8,1047.2L1414.1,1028.4L1415.9,1041.4L1417.6,1050.2L1419.4,1053.1L1421.4,1064.7L1422.9,1073.4L1424,1167.2Z"/>
<path d="M271,1321.4L271,1314.6L273.9,1265.8L276.2,1304.4L277.4,1314.6L280.3,1265.8L282.6,1317.5L284.9,1314.6L287,1293.4L289.9,1317.5L291.9,1314.6L294.2,1210.3L297.2,1305.9L298.6,1314.6L300.6,1237.9L303.5,1316L305.9,1317.5L308.2,1265.8L310.2,1314.6L311.7,1316L314,1265.8L316,1314.6L317.5,1316L320.4,1265.8L323.3,1317.5L326.2,1314.6L329.1,1265.8L332,1317.5L334.3,1314.6L337.8,1265.2L341.3,1237.9L343.6,1259.4L346,1237.9L348,1285.5L350.9,1317.5L353.8,1320.4L356.7,1293.4L361.1,1320.4L364,1311.7L368.3,1293.4L370.4,1311.7L372.7,1293.4L375.6,1317.5L377.9,1314.6L380.5,1265.8L382.9,1285.5L386.7,1265.8L390.1,1285.5L394.5,1314.6L398.9,1237.9L403.2,1300.1L407.6,1317.5L411.4,1237.9L413.4,1285.5L416.3,1265.8L420.6,1294.2L425,1305.9L429.4,1320.4L434.6,1293.4L437.2,1314.6L441,1293.4L443.9,1317.5L448.3,1300.1L453.5,1265.8L457,1305.9L459.3,1314.6L461.3,1293.4L463.4,1308.8L466.3,1265.8L469.2,1314.6L472.7,1210.3L475.9,1285.5L477.9,1317.5L481.7,1308.8L486,1293.4L488.9,1311.7L491.8,1317.5L496.5,1210.3L500,1285.5L503.5,1317.5L507,1314.6L509.3,1293.4L512.2,1311.7L514.5,1314.6L517.4,1182.5L520.3,1271L522.4,1317.5L525.3,1314.6L527.6,1293.4L530.5,1317.5L534,1265.8L536.9,1314.6L538.9,1317.5L541.2,1300.1L547.1,1237.9L549.4,1250.7L551.4,1210.3L554.3,1265.2L556.4,1285.5L558.1,1237.9L561,1276.8L564.5,1265.8L567.4,1300.1L570.3,1314.6L574.9,1293.4L577,1317.5L581.3,1265.8L584.8,1303L587.7,1314.6L590.6,1265.8L592.4,1285.5L595.3,1265.8L598.2,1314.6L600.2,1316L604.6,1265.8L607.5,1314.6L610.4,1314.6L615.6,1237.9L619.1,1279.7L622,1295.7L627.8,1318.9L632.2,1285.5L635.1,1265.8L638,1285.5L639.5,1265.8L642.4,1182.5L645.8,1250.7L649.6,1314.6L651.7,1317.5L653.4,1293.4L655.4,1317.5L659.2,1265.8L664.2,1314.6L668.5,1314.6L671.4,1293.4L674.9,1317.5L679.6,1237.9L683,1279.7L688.9,1317.5L691.8,1300.1L695.5,1237.9L699,1314.6L701.1,1316L705.4,1210.3L709.2,1303L711.5,1293.4L715,1303L720.2,1318.9L725.2,1303L729.5,1293.4L733,1308.8L736.8,1317.5L741.2,1285.5L744.6,1265.8L748.4,1303L752.8,1314.6L758,1265.8L761.5,1316L763,1293.4L765.9,1316L768.8,1303L772.5,1265.8L775.4,1314.6L777.5,1293.4L781.8,1305.9L787.7,1318.9L793.5,1305.9L802.2,1293.4L807.4,1265.8L810.9,1314.6L813.8,1293.4L816.1,1314.6L818.5,1265.8L822.5,1291.3L828.3,1265.8L834.1,1314.6L837.6,1293.4L840.5,1303L842.9,1317.5L847.2,1314.6L849.3,1210.3L851,1246.3L855.1,1210.3L859.1,1311.7L861.2,1314.6L864.1,1293.4L867,1314.6L869,1316L872.5,1265.8L875.7,1314.6L878.6,1237.9L882.4,1285.5L885.3,1314.6L888.2,1265.8L891.7,1314.6L896,1265.8L901.9,1314.6L908.2,1237.9L912,1285.5L916.4,1314.6L923.1,1237.9L927.1,1279.7L931.8,1317.5L933.8,1293.4L939.6,1311.7L945.4,1318.9L956.2,1293.4L960.8,1237.9L964.3,1314.6L967.2,1237.9L970.1,1265.8L973,1210.3L976.5,1300.1L981.2,1210.3L984.7,1291.3L988.2,1316L992.8,1210.3L996.3,1291.3L999.2,1314.6L1004.4,1265.8L1010.8,1303L1013.7,1314.6L1016.6,1293.4L1022.4,1314.6L1024.8,1308.8L1027.4,1210.3L1030.6,1256.5L1032.6,1237.9L1034.6,1279.7L1037,1265.8L1042.8,1297.1L1048.6,1318.9L1055.9,1303L1063.1,1265.8L1066.6,1297.1L1074.2,1318.9L1079.1,1305.9L1083.5,1293.4L1085.8,1314.6L1087.8,1293.4L1089.9,1314.6L1093.1,1293.4L1096.5,1314.6L1101.5,1285.5L1105,1265.8L1109,1314.6L1111.7,1265.8L1115.4,1314.6L1120.7,1237.9L1124.1,1311.7L1126.2,1279.7L1129.4,1265.8L1132,1288.4L1134.6,1265.8L1137.2,1314.6L1139.5,1237.9L1141,1282.6L1145.1,1265.8L1147.4,1314.6L1151.2,1293.4L1154.9,1317.5L1157.9,1314.6L1163.7,1237.9L1167.7,1314.6L1170.1,1314.6L1174.4,1293.4L1180.2,1317.5L1183.1,1311.7L1185.5,1265.8L1186.9,1291.3L1188.9,1265.8L1192.7,1237.9L1196.8,1182.5L1200.6,1271L1203.5,1314.6L1207.3,1293.4L1210.7,1314.6L1216,1293.4L1223.8,1317.5L1229.6,1293.4L1234,1317.5L1238.3,1285.5L1244.2,1237.9L1247.9,1285.5L1252,1317.5L1260.7,1293.4L1263,1317.5L1267.4,1265.8L1271.2,1314.6L1275.2,1265.8L1279,1314.6L1282.8,1293.4L1285.7,1317.5L1291.5,1182.5L1294.4,1294.2L1297.3,1265.8L1300.2,1308.8L1303.1,1265.8L1307.2,1288.4L1313,1265.8L1316.8,1291.3L1319.7,1237.9L1323.5,1305.9L1326.4,1265.8L1329.3,1308.8L1332.8,1237.9L1336.3,1311.7L1338.6,1293.4L1341.5,1314.6L1343.8,1293.4L1348.8,1316L1356,1293.4L1358.4,1314.6L1361.3,1210.3L1365.3,1308.8L1372,1265.8L1376.4,1303L1378.7,1317.5L1381.6,1293.4L1385.7,1316L1390.3,1293.4L1395.3,1265.8L1399.6,1291.3L1404.8,1265.8L1409.8,1285.5L1414.7,1317.5L1418.5,1300.1L1422.9,1265.8L1424,1321.4Z"/>
<path d="M271,1475.7L271,1427.9L272.5,1414.8L274.5,1439.5L276.2,1414.8L278.3,1406.1L279.7,1409L281.2,1379.9L283.2,1398.8L285.5,1410.5L287.9,1439.5L289.9,1419.2L291.9,1406.1L293.7,1410.5L295.7,1422.1L297.7,1416.3L299.5,1397.4L301.8,1430.8L304.4,1410.5L307.3,1381.4L309.4,1366.9L311.1,1353.8L313.1,1395.9L316,1427.9L318.9,1456.9L321,1430.8L323.9,1419.2L325.6,1353.8L327.7,1375.6L329.7,1430.8L332,1448.2L335.5,1414.8L337.8,1430.8L339.9,1448.2L341.6,1419.2L343.6,1406.1L346,1425L349.5,1430.8L352.4,1439.5L354.7,1448.2L357,1439.5L359.6,1422.1L362.5,1414.8L364.6,1425L366.9,1442.4L370.4,1459.9L374.2,1414.8L376.2,1430.8L378.5,1414.8L381.4,1442.4L383.7,1432.3L385.8,1436.6L388.7,1419.2L391.9,1397.4L394.5,1416.3L395.9,1439.5L398.9,1425L401.8,1406.1L404.1,1427.9L406.1,1451.1L409.9,1432.3L411.9,1456.9L415.4,1414.8L417.7,1451.1L419.8,1456.9L422.1,1423.5L423.6,1427.9L425.6,1414.8L427.9,1427.9L430.2,1454L431.4,1448.2L433.7,1474.4L436.6,1459.9L439,1448.2L441,1456.9L443,1441L445.9,1474.4L448.8,1442.4L451.7,1432.3L454.6,1442.4L455.8,1459.9L458.4,1441L460.5,1448.2L462.2,1462.8L465.1,1432.3L468,1454L470.3,1474.4L473.8,1459.9L477.9,1451.1L481.7,1441L486,1454L491.8,1474.4L496.2,1465.7L502.6,1449.7L505.8,1471.5L507,1474.4L513.6,1449.7L518,1459.9L520.9,1474.4L523.8,1467.1L526.7,1474.4L531.1,1456.9L534.8,1449.7L537.8,1462.8L541.2,1449.7L544.1,1462.8L546.5,1449.7L550,1462.8L554.3,1449.7L557.2,1459.9L558.7,1474.4L561,1441L563.3,1451.1L566.2,1465.7L569.1,1474.4L573.2,1470L577,1466.2L579,1471.5L581.3,1458.4L583.7,1462.8L585.7,1451.1L588,1441L590.1,1465.7L592.1,1462.8L594.4,1449.7L596.5,1454L599.4,1456.9L603.1,1449.7L606,1474.4L608.9,1449.7L611,1465.7L613.3,1458.4L615.6,1465.7L617.7,1459.9L619.7,1458.4L622,1474.4L625.5,1462.8L627.8,1449.7L630.7,1474.4L633.6,1459.9L637.1,1446.8L640,1432.3L642.4,1456.9L645.8,1471.5L647.6,1474.4L651.1,1441L654,1449.7L657.5,1456.9L661.3,1446.8L664.2,1441L667.1,1465.7L670,1441L672,1459.9L674.9,1441.8L677.2,1449.7L678.7,1465.7L682.5,1414.8L685.4,1448.2L687.4,1455.5L690.3,1451.1L692.3,1441L694.1,1446.8L696.1,1432.3L699,1448.2L701.9,1465.7L705.7,1449.7L708.6,1462.8L711.5,1449.7L715,1474.4L718.5,1432.3L720.8,1459.9L723.1,1458.4L725.2,1474.4L729,1459.9L732.4,1449.7L735.9,1465.7L738.8,1454L741.7,1441L744.6,1451.1L748.4,1474.4L751.3,1458.4L754.2,1474.4L758,1441L760,1443.9L762.1,1432.3L764.4,1454L767.9,1474.4L770.8,1467.1L773.7,1474.4L783.3,1449.7L789.1,1456.9L794.9,1465.7L796.4,1474.4L798.7,1449.7L802.2,1456.9L805.7,1465.7L808,1456.9L811.5,1441L814.4,1474.4L816.7,1468.6L821.1,1458.4L824,1474.4L828.3,1441L831.8,1406.1L834.7,1459.9L836.5,1474.4L839.4,1458.4L842.3,1474.4L845.2,1459.9L847.2,1458.4L849.3,1474.4L851,1465.7L853.3,1449.7L856.8,1474.4L861.2,1459.9L865.5,1449.7L869.9,1423.5L871.9,1459.9L874.8,1474.4L878.6,1465.7L882.4,1449.7L885.3,1474.4L887.3,1458.4L889.4,1474.4L892.3,1467.1L894.6,1474.4L898.1,1458.4L901,1464.2L903.3,1459.9L907.1,1449.7L912,1465.7L916.4,1474.4L919.3,1458.4L923.6,1465.7L927.1,1474.4L930.9,1459.9L934.7,1427.9L936.7,1397.4L939.6,1442.4L942.5,1474.4L945.4,1459.9L947.8,1449.7L951.3,1465.7L953.3,1474.4L958.5,1467.1L962.9,1471.5L965.8,1474.4L970.1,1467.1L973,1474.4L976.5,1458.4L978.9,1474.4L982.3,1465.7L986.1,1449.7L988.2,1474.4L991.9,1441L994.8,1459.9L997.7,1458.4L999.8,1474.4L1004.4,1449.7L1007.9,1459.9L1010.2,1474.4L1013.1,1449.7L1016.1,1465.7L1021,1449.7L1025.3,1474.4L1029.7,1467.1L1034.1,1474.4L1038.4,1467.1L1039.9,1474.4L1044.2,1458.4L1048,1471.5L1050.9,1474.4L1055.9,1458.4L1059.1,1441L1062.5,1465.7L1066,1474.4L1070.4,1458.4L1074.2,1474.4L1079.1,1465.7L1083.5,1449.7L1085.2,1454L1087,1449.7L1089.9,1465.7L1092.8,1458.4L1095.1,1474.4L1098,1449.7L1100.9,1474.4L1105.3,1467.1L1106.7,1474.4L1109,1458.4L1112.5,1465.7L1115.4,1474.4L1119.8,1449.7L1124.1,1465.7L1126.5,1474.4L1129.4,1467.1L1131.4,1474.4L1135.2,1441L1137.2,1432.3L1139.3,1441L1141,1454.8L1144.5,1474.4L1148.3,1470L1152,1467.1L1154.1,1474.4L1157,1449.7L1159,1468.6L1161.3,1474.4L1165.7,1458.4L1167.7,1459.9L1171.2,1441L1174.4,1462.8L1177.3,1458.4L1180.2,1449.7L1182.3,1464.2L1185.2,1458.4L1187.5,1462.8L1190.4,1459.9L1194.8,1449.7L1197.7,1465.7L1199.1,1474.4L1202,1458.4L1204.9,1474.4L1209.3,1458.4L1212.2,1474.4L1216,1449.7L1218,1454L1220,1449.7L1222.4,1471.5L1223.8,1474.4L1226.7,1458.4L1231.1,1474.4L1235.4,1449.7L1237.5,1474.4L1241.3,1441L1244.2,1456.9L1248.5,1465.7L1252.9,1459.9L1256.7,1449.7L1258.7,1462.8L1261.6,1441L1264.5,1459.9L1267.4,1465.7L1270.3,1458.4L1273.2,1468.6L1276.1,1474.4L1280.5,1467.1L1283.4,1471.5L1284.8,1474.4L1287.7,1448.2L1290.6,1441L1293.6,1451.1L1296.5,1441L1299.4,1474.4L1302.3,1459.9L1305.2,1449.7L1309,1459.9L1311.9,1474.4L1315.3,1462.8L1318.8,1423.5L1321.7,1442.4L1326.4,1455.5L1331.3,1432.3L1334.2,1451.1L1337.1,1449.7L1339.2,1462.8L1341.5,1458.4L1343.8,1464.2L1346.7,1458.4L1349.6,1474.4L1352.5,1441L1356,1459.9L1359.5,1465.7L1362.4,1459.9L1364.7,1432.3L1367.7,1474.4L1370.6,1451.1L1372.9,1449.7L1375.2,1432.3L1377.8,1449.7L1380.7,1414.8L1383.6,1429.3L1386.5,1401.7L1389.4,1362.5L1392.4,1384.3L1395.3,1414.8L1397.3,1406.1L1400.2,1430.8L1402.5,1385.8L1406,1336.8L1408.3,1364L1410.7,1403.2L1413.6,1371.2L1415.9,1422.1L1417.6,1393L1419.4,1362.5L1421.8,1373.4L1424,1475.7Z"/>
<path d="M271,1629.9L271,1555.7L273.3,1580.4L275.4,1593.5L277.4,1599.3L279.7,1592.1L283.2,1574.6L285.5,1593.5L287.9,1611L289.9,1619.7L291.9,1581.9L293.7,1561.6L296.6,1547L298.6,1552.8L301.5,1547L303.5,1564.5L305.9,1577.5L308.2,1561.6L311.1,1547L313.1,1564.5L315.2,1570.3L317.5,1555.7L319.8,1576.1L321,1593.5L322.7,1583.4L324.8,1611L326.8,1616.8L329.1,1611L332,1602.2L334.3,1608.1L336.7,1573.8L340.2,1593.5L342.2,1584.8L344.8,1547L347.1,1587.7L349.5,1608.1L352.4,1602.2L354.4,1593.5L356.7,1608.1L359,1593.5L362.5,1612.4L365.4,1602.2L369.2,1608.1L372.7,1593.5L376.2,1584.8L379.1,1574.6L382,1596.4L386.7,1574.6L390.1,1619.7L393,1599.3L397.4,1583.4L400.3,1599.3L403.5,1564.5L406.1,1581.9L408.2,1573.2L411.1,1599.3L414.8,1618.2L417.7,1599.3L421.5,1564.5L424.4,1599.3L429.4,1592.1L435.2,1583.4L438.1,1613.9L440.1,1602.2L442.4,1618.2L444.8,1608.1L448.3,1593.5L450.6,1613.9L452.6,1628.4L454.6,1611L457,1619.7L458.7,1611L461.3,1622.6L465.1,1628.4L468.6,1616.8L471.5,1599.3L474.4,1593.5L477.3,1618.2L480.2,1608.1L483.1,1602.2L485.4,1609.5L487.5,1602.2L489.5,1608.1L491.8,1583.4L494.2,1618.2L497.1,1625.5L501.1,1583.4L503.5,1593.5L505.8,1628.4L508.7,1619.7L510.7,1611L513.6,1618.2L516.5,1612.4L518.6,1619.7L522.4,1602.2L525.3,1625.5L528.2,1618.2L532.5,1611L535.4,1618.2L538.3,1625.5L541.2,1613.9L545.6,1602.2L549.4,1593.5L552.3,1603.7L555.2,1605.1L558.1,1613.9L561,1602.2L563.3,1605.1L566.2,1609.5L569.1,1603.7L571.5,1602.2L574.1,1612.4L577,1618.2L579.9,1605.1L581.9,1589.2L584.2,1574.6L587.2,1593.5L589.5,1608.1L592.4,1602.2L595.3,1618.2L597.3,1611L599.6,1592.9L601.7,1613.9L604,1628.4L606,1593.5L607.5,1602.2L609.8,1593.5L612.7,1608.1L614.8,1628.4L616.8,1593.5L619.1,1555.7L621.4,1579L624.3,1593.5L627.3,1608.1L629.6,1581.9L632.2,1593.5L634.2,1576.1L636,1584.8L638.9,1564.5L641.8,1584.8L643.8,1599.3L647.6,1574.6L650.5,1593.5L653.4,1608.1L655.4,1593.5L658.3,1608.1L661.3,1628.4L665.6,1619.7L669.1,1599.3L671.4,1583.4L674.3,1608.1L676.7,1603.7L679.6,1608.1L682.5,1590.6L685.4,1564.5L688.3,1593.5L690.3,1619.7L694.1,1611L696.1,1618.2L699,1602.2L701.9,1616.8L704.8,1628.4L708.6,1608.1L712.1,1573.8L715,1599.3L718.5,1583.4L721.4,1611L723.7,1593.5L726.6,1611L729.5,1612.4L732.4,1622.6L734.8,1602.2L737.7,1616.8L739.7,1602.2L742.6,1622.6L744.6,1628.4L747.6,1619.7L750.5,1602.2L754.2,1615.3L758,1599.3L760,1593.5L763,1611L765.9,1608.1L769.6,1592.9L772.5,1615.3L775.4,1628.4L778.4,1611L783.3,1616.8L789.1,1628.4L793.5,1611L796.4,1602.2L800.7,1592.9L803.6,1611L806.5,1612.4L808.6,1602.2L811.5,1618.2L816.1,1583.4L819.6,1608.1L822.5,1625.5L826,1592.9L829.8,1605.1L834.1,1622.6L837.1,1628.4L841.4,1611L844.3,1618.2L848.7,1583.4L851,1596.4L853.9,1619.7L857.4,1628.4L863.2,1602.2L865.5,1619.7L867.9,1611L870.8,1628.4L875.7,1611L879.5,1619.7L882.4,1628.4L886.5,1602.2L888.8,1606.6L891.1,1602.2L894,1619.7L896.9,1628.4L901,1574.6L903.3,1599.3L906.2,1608.1L909.1,1602.2L913.5,1611L919.3,1619.7L926,1602.2L928.9,1611L931.8,1583.4L933.8,1619.7L935.3,1628.4L938.2,1602.2L941.1,1619.7L944.6,1611L949.2,1622.6L950.4,1628.4L953.3,1574.6L956.2,1611L958.5,1628.4L962.9,1605.1L965.8,1592.9L970.1,1611L973,1616.8L975.9,1611L978.9,1619.7L981.2,1611L984.1,1619.7L987,1628.4L992.8,1583.4L995.7,1622.6L997.7,1628.4L1004.4,1611L1010.2,1622.6L1013.1,1628.4L1019.5,1602.2L1023,1619.7L1025.9,1615.3L1028.8,1611L1031.7,1619.7L1034.6,1602.2L1037,1619.7L1039.3,1628.4L1042.2,1611L1045.1,1622.6L1049.5,1555.7L1052.1,1603.7L1055,1602.2L1057.3,1619.7L1059.6,1625.5L1062.5,1574.6L1065.4,1608.1L1067.5,1628.4L1071.3,1602.2L1076.2,1622.6L1078.2,1628.4L1084,1592.9L1087.8,1611L1091.6,1619.7L1093.6,1612.4L1095.7,1618.2L1098,1611L1101.5,1619.7L1104.4,1602.2L1107.3,1618.2L1111.1,1592.9L1114,1596.4L1116.9,1619.7L1119.8,1583.4L1122.7,1603.7L1125.6,1592.9L1128.5,1611L1132.3,1628.4L1135.2,1611L1138.1,1622.6L1141,1619.7L1143.3,1628.4L1146.2,1619.7L1148.3,1624L1152,1628.4L1155.5,1622.6L1159.9,1619.7L1163.7,1628.4L1166.6,1602.2L1170.1,1618.2L1174.4,1611L1177.3,1619.7L1181.7,1628.4L1187.5,1583.4L1190.4,1589.2L1193.3,1574.6L1196.2,1611L1198.5,1602.2L1202,1619.7L1205.5,1628.4L1210.2,1611L1215.1,1592.9L1218.9,1619.7L1222.9,1628.4L1225.8,1583.4L1228.8,1625.5L1231.7,1628.4L1234.6,1592.9L1236.9,1599.3L1239.8,1592.9L1242.7,1611L1246.2,1625.5L1249.1,1611L1252,1628.4L1254.9,1611L1258.7,1628.4L1266.5,1592.9L1270.3,1619.7L1274.1,1628.4L1277.6,1602.2L1281.1,1618.2L1285.7,1611L1288.6,1619.7L1291.5,1602.2L1295,1628.4L1299.4,1619.7L1303.7,1602.2L1306.6,1611L1311,1602.2L1314.8,1622.6L1318.3,1592.9L1321.2,1628.4L1324.1,1602.2L1327,1619.7L1331.3,1602.2L1334.2,1625.5L1338.6,1611L1342.1,1555.7L1344.4,1602.2L1346.7,1628.4L1349.1,1592.9L1351.7,1603.7L1353.1,1602.2L1356,1611L1358.4,1592.9L1360.4,1611L1364.2,1536.9L1366.2,1587.7L1369.1,1583.4L1372,1593.5L1375.8,1536.9L1378.7,1587.7L1382.2,1547L1383.9,1555.7L1386.5,1536.9L1388.6,1570.3L1392.4,1528.1L1395.3,1547L1398.2,1555.7L1401.1,1561.6L1403.1,1573.2L1405.4,1554.3L1408.3,1523.8L1411.8,1509.3L1414.7,1531L1417.6,1491L1420.5,1541.2L1422.9,1491L1424,1629.9Z"/>
<path d="M271,1784.2L271,1734L273.3,1745.6L275.1,1757.2L277.4,1715.1L279.7,1722.4L282,1715.1L284.1,1725.3L286.1,1703.5L288.4,1694.8L291.3,1704.9L293.7,1734L296.6,1763L298.6,1751.4L300.6,1744.2L303.5,1725.3L305.3,1715.1L307.3,1722.4L309.4,1694.8L311.1,1722.4L313.1,1704.9L315.2,1716.6L317.5,1709.3L319.2,1704.9L321,1722.4L323.3,1716.6L325.6,1718L328,1713.6L329.7,1742.7L331.4,1715.1L333.8,1728.2L335.5,1744.2L338.4,1736.9L342.2,1725.3L344.2,1704.9L346.6,1728.2L348.9,1751.4L350.9,1734L353.8,1720.9L355.8,1674.4L358.2,1693.3L359.6,1728.2L361.7,1742.7L364.6,1734L366.9,1757.2L369.2,1783.4L371.3,1765.9L372.7,1754.3L375,1755.8L377.1,1768.9L379.1,1757.2L384.3,1715.1L387.2,1729.6L390.1,1742.7L393,1768.9L395.4,1771.8L398.9,1754.3L401.2,1744.2L404.1,1757.2L406.1,1734L408.2,1725.3L410.5,1736.9L412.8,1751.4L414.8,1748.5L416.9,1745.6L418.6,1735.4L420.6,1736.9L422.7,1734L425,1751.4L427.9,1783.4L430.8,1745.6L433.7,1725.3L436.1,1751.4L437.8,1783.4L440.1,1765.9L442.4,1777.6L444.8,1783.4L449.4,1754.3L452.6,1777.6L454.1,1783.4L457,1754.3L459.9,1763L462.2,1768.9L464.2,1764.5L466.3,1771.8L470.9,1783.4L474.4,1774.7L478.2,1744.2L480.2,1763L483.1,1783.4L488.4,1764.5L491.8,1783.4L497.1,1754.3L500.6,1763L504.9,1777.6L507,1783.4L512.2,1754.3L516.5,1763L520.9,1777.6L523.8,1783.4L530.2,1774.7L534.8,1783.4L540.7,1754.3L544.1,1765.9L547.6,1783.4L552.9,1754.3L555.8,1780.5L557.2,1783.4L561,1766.7L564.5,1783.4L570.3,1764.5L575.5,1783.4L579.9,1774.7L584.2,1734L587.7,1774.7L590.1,1764.5L594.4,1783.4L599.4,1744.2L602.3,1783.4L606,1754.3L608.9,1768.9L611,1771.8L613.9,1764.5L616.2,1771.8L620.6,1754.3L622.6,1768.9L625.5,1754.3L629.3,1783.4L633.6,1754.3L637.1,1773.2L641.8,1764.5L647.6,1773.2L654.6,1764.5L659.8,1783.4L665,1774.7L667.1,1783.4L671.4,1754.3L674.9,1765.9L678.7,1783.4L682.5,1764.5L684.5,1783.4L687.4,1764.5L688.9,1771.8L691.2,1764.5L693.2,1771.8L697,1744.2L700.5,1783.4L705.7,1764.5L709.2,1783.4L712.7,1754.3L715,1774.7L717.3,1744.2L720.2,1763L723.7,1754.3L728.1,1765.9L731.9,1783.4L735.9,1754.3L739.7,1783.4L743.5,1754.3L747,1768.9L752.8,1754.3L757.1,1783.4L760.9,1757.2L763.8,1744.2L765.9,1764.5L769.6,1744.2L773.1,1765.9L777.5,1773.2L781.8,1768.9L785.3,1754.3L788.2,1760.1L792.9,1734L795.8,1763L799.9,1783.4L804.5,1774.7L807.4,1783.4L811.5,1757.2L816.1,1744.2L819,1757.2L820.2,1764.5L822.5,1754.3L826.9,1765.9L831.2,1783.4L834.7,1754.3L837.1,1774.7L841.4,1783.4L848.7,1774.7L851,1775.4L858.3,1783.4L864.9,1764.5L867,1773.2L870.8,1764.5L875.7,1783.4L878.6,1774.7L881.5,1783.4L885.9,1764.5L893.1,1783.4L900.4,1774.7L906.2,1783.4L910.6,1764.5L912.6,1770.3L918.4,1744.2L922.2,1768.9L926,1783.4L931.8,1744.2L935.3,1783.4L940.5,1754.3L944,1783.4L948.3,1764.5L967.2,1783.4L970.1,1774.7L974.5,1783.4L980.3,1764.5L983.2,1773.2L986.1,1764.5L989.9,1771.8L996.3,1754.3L999.8,1763L1004.4,1754.3L1006.5,1768.9L1009.4,1754.3L1012.3,1768.9L1016.1,1754.3L1019.5,1783.4L1021,1765.9L1025.3,1754.3L1028.8,1763L1031.2,1783.4L1033.5,1774.7L1035.5,1783.4L1039.3,1774.7L1044.2,1783.4L1050.9,1774.7L1054.4,1744.2L1059.6,1783.4L1066.6,1764.5L1071.3,1783.4L1077.1,1744.2L1080.6,1768.9L1087,1783.4L1090.7,1754.3L1094.5,1783.4L1098.6,1754.3L1101.5,1763L1106.7,1783.4L1116.9,1744.2L1121.2,1774.7L1124.1,1754.3L1127.6,1783.4L1134.3,1734L1137.2,1763L1138.7,1754.3L1141,1757.2L1144.5,1783.4L1148.3,1764.5L1152.6,1783.4L1158.4,1764.5L1163.7,1783.4L1170.1,1764.5L1173.5,1783.4L1175.9,1774.7L1178.2,1783.4L1184.6,1774.7L1191,1783.4L1194.8,1774.7L1197.7,1783.4L1201.4,1764.5L1204.9,1783.4L1208.4,1744.2L1211.3,1774.7L1215.1,1783.4L1219.5,1774.7L1223.8,1783.4L1229.6,1774.7L1234,1783.4L1241.3,1765.9L1245,1754.3L1247.9,1774.7L1250,1783.4L1254.3,1774.7L1256.7,1783.4L1259.6,1774.7L1264.5,1783.4L1271.2,1764.5L1275.2,1783.4L1279.9,1723.8L1284,1771.8L1289.2,1754.3L1292.7,1783.4L1295,1764.5L1297.9,1771.8L1303.1,1754.3L1307.2,1783.4L1311,1765.9L1314.8,1723.8L1318.3,1783.4L1324.6,1754.3L1327,1757.2L1329.9,1734L1333.4,1754.3L1335.7,1763L1338.6,1754.3L1341.5,1763L1345.9,1715.1L1348.8,1757.2L1350.8,1744.2L1355.4,1783.4L1358.4,1763L1361.3,1744.2L1364.7,1754.3L1366.2,1757.2L1369.1,1725.3L1372,1763L1374,1744.2L1376.4,1763L1379.3,1725.3L1382.2,1748.5L1384.5,1751.4L1388,1725.3L1390.3,1728.2L1392.4,1704.9L1394.4,1742.7L1397.3,1704.9L1400.2,1722.4L1402.5,1734L1406,1675.9L1408.9,1699.1L1411.8,1713.6L1414.1,1645.4L1417.1,1707.8L1420.5,1655.5L1422.9,1684.6L1424,1784.2Z"/>
<path d="M271,1938.5L271,1925.8L273.9,1902.5L276.2,1879.3L279.1,1818.3L281.5,1829.9L284.1,1799.6L286.1,1879.3L288.4,1899.6L290.8,1937.4L292.8,1856L294.2,1840L296.6,1898.2L299.5,1879.3L302.4,1908.3L305.3,1902.5L307.6,1879.3L311.7,1914.1L314.6,1902.5L318.4,1879.3L321,1902.5L322.7,1914.1L324.8,1898.2L327.1,1914.1L329.1,1902.5L331.4,1898.2L333.5,1911.2L335.5,1937.4L339.3,1898.2L341.3,1902.5L343.6,1858.9L346,1909.8L348,1911.2L350.9,1858.9L352.9,1914.1L357.3,1858.9L359.6,1873.5L362.5,1898.2L364.6,1879.3L366.9,1902.5L369.2,1918.5L373.3,1925.8L377.1,1935.9L381.4,1928.7L387.8,1918.5L392.5,1934.5L394.8,1937.4L398,1918.5L400.3,1934.5L404.7,1898.2L407.6,1934.5L409.9,1931.6L415.1,1898.2L419.2,1924.3L423.6,1935.9L429.4,1928.7L433.7,1879.3L436.6,1931.6L438.1,1934.5L441.9,1918.5L447.1,1935.9L448.8,1934.5L453.5,1898.2L457,1935.9L459.9,1927.2L465.1,1879.3L469.2,1914.1L474.4,1898.2L477.9,1914.1L480.8,1898.2L483.7,1935.9L488.4,1898.2L491.8,1935.9L493.3,1934.5L496.2,1918.5L498.2,1934.5L501.1,1918.5L504.9,1934.5L512.2,1902.5L517.4,1879.3L519.7,1858.9L523.2,1890.9L526.1,1934.5L529,1918.5L531.1,1935.9L535.4,1911.2L538.9,1879.3L541.2,1840L544.1,1914.1L546.5,1898.2L548.8,1911.2L551.7,1879.3L555.2,1893.8L558.1,1914.1L561,1900.3L564.5,1858.9L567.4,1914.1L569.7,1898.2L574.9,1920L580.8,1937.4L586.6,1879.3L589.5,1935.9L592.4,1898.2L598.2,1917.1L605.2,1898.2L608.1,1911.2L612.7,1879.3L616.2,1920L618.5,1931.6L620.6,1918.5L622.6,1931.6L624.9,1898.2L627.3,1922.9L630.7,1902.5L634.2,1818.8L637.1,1902.5L639.5,1935.9L641.8,1879.3L644.7,1908.3L647.6,1935.9L653.4,1902.5L657.5,1879.3L659.2,1896.7L661,1879.3L664.2,1935.9L670,1918.5L674.9,1935.9L678.7,1898.2L682.5,1935.9L688.9,1879.3L693.2,1935.9L696.1,1898.2L698.2,1933L701.1,1898.2L703.4,1933L706.3,1898.2L709.2,1934.5L712.1,1879.3L715.6,1935.9L718.5,1918.5L720.8,1935.9L726.6,1918.5L732.4,1935.9L736.8,1918.5L740.6,1935.9L745.5,1879.3L748.4,1911.2L750.5,1898.2L752.8,1911.2L755.7,1898.2L758.6,1911.2L761.5,1879.3L765.9,1935.9L769.1,1858.9L771.7,1902.5L773.7,1879.3L776.6,1935.9L779.5,1918.5L781.8,1934.5L785.3,1818.8L788.2,1908.3L791.1,1935.9L794,1918.5L797,1935.9L804.5,1879.3L809.4,1935.9L816.7,1879.3L821.1,1935.9L828.9,1879.3L835.6,1914.1L840.5,1888L845.2,1858.9L848.7,1908.3L851,1922.9L854.5,1898.2L858.3,1914.1L861.2,1898.2L864.1,1914.1L867,1898.2L869.9,1933L876.6,1879.3L880.1,1914.1L884.4,1935.9L891.7,1918.5L897.5,1935.9L901,1918.5L903.3,1935.9L910.6,1858.9L913.5,1896.7L917.8,1931.6L919.3,1935.9L923.1,1858.9L926.6,1902.5L928.9,1914.1L933.8,1879.3L938.2,1917.1L941.1,1935.9L942.5,1898.2L945.4,1914.1L948.1,1879.3L950.4,1914.1L952.1,1898.2L955.6,1935.9L969.6,1898.2L972.5,1935.9L975.9,1918.5L980.3,1935.9L986.1,1898.2L991.1,1914.1L997.7,1879.3L1002.1,1920L1004.4,1935.9L1007.3,1898.2L1010.8,1935.9L1015.2,1918.5L1018.1,1935.9L1022.4,1914.1L1026.8,1879.3L1029.7,1905.4L1032.6,1879.3L1037,1914.1L1039.9,1898.2L1042.8,1935.9L1045.7,1840L1050,1902.5L1055,1935.9L1060.2,1898.2L1063.1,1931.6L1066,1934.5L1070.4,1858.9L1074.7,1935.9L1077.7,1898.2L1082,1935.9L1089.3,1918.5L1093.6,1935.9L1098,1918.5L1102.4,1935.9L1109.6,1898.2L1115.4,1920L1118.9,1935.9L1123.6,1898.2L1124.7,1908.3L1127.1,1898.2L1130.5,1935.9L1133.4,1920L1137.2,1898.2L1141,1925.8L1143.3,1918.5L1145.4,1935.9L1152.6,1879.3L1157,1914.1L1159.9,1879.3L1162.8,1920L1167.7,1935.9L1173,1920L1176.7,1840L1181.7,1935.9L1186.9,1858.9L1189.8,1935.9L1192.7,1879.3L1196.8,1935.9L1205.5,1898.2L1209.3,1935.9L1214.2,1858.9L1218.9,1935.9L1222.4,1918.5L1224.7,1935.9L1228.2,1858.9L1234.6,1935.9L1240.4,1898.2L1243.3,1914.1L1249.1,1898.2L1252.9,1914.1L1256.4,1840L1260.1,1920L1262.5,1935.9L1268.9,1918.5L1274.7,1935.9L1279.9,1879.3L1282.8,1911.2L1284.8,1898.2L1292.1,1935.9L1299.4,1918.5L1305.2,1935.9L1310.1,1879.3L1313,1935.9L1315.3,1898.2L1317.7,1906.9L1319.7,1879.3L1323.5,1935.9L1326.4,1898.2L1329.3,1935.9L1337.1,1898.2L1340.9,1935.9L1344.4,1858.9L1349.6,1935.9L1356.6,1898.2L1361.3,1935.9L1367.1,1898.2L1370.6,1914.1L1374,1879.3L1376.4,1893.8L1378.7,1879.3L1383.6,1858.9L1389.4,1893.8L1393.8,1935.9L1400.2,1858.9L1405.4,1914.1L1408.3,1898.2L1412.7,1935.9L1417.6,1858.9L1421.4,1908.3L1423.4,1879.3L1424,1938.5Z"/>
<path d="M271,2092.7L271,2082.7L273.3,2085L275.4,2079.8L277.4,2074.5L279.7,2076.9L282.6,2080.3L285.5,2084.1L288.4,2089.1L291.3,2085.6L293.7,2087.9L296.6,2083.2L298.6,2084.1L301.5,2078.3L304.4,2085.6L307.3,2088.5L310.2,2092L314,2085.6L317.5,2081.2L320.4,2078.3L323.3,2085L326.2,2082.7L329.1,2085.6L332,2088.5L334.9,2085.6L338.4,2083.2L342.2,2081.2L344.2,2088.5L346.6,2087.9L348.9,2082.1L350.9,2088.5L354.7,2085.6L358.2,2084.1L361.7,2083.2L365.4,2085L369.8,2087.3L373.3,2086.2L377.1,2083.2L380,2085.6L382.9,2084.4L386.7,2085.6L390.1,2085L394.5,2089.6L398.9,2087.3L403.2,2085L407,2083.2L410.5,2086.2L414.8,2085.6L419.2,2085L421.5,2078.3L423.6,2084.1L426.5,2089.1L430.8,2085.6L435.2,2086.7L439.5,2087.9L443,2086.7L446.8,2089.9L449.7,2087.9L452.6,2090.8L455.5,2089.6L459.3,2087.9L462.8,2090.2L466.3,2087.3L470,2088.5L473,2090.2L477.3,2092L481.7,2090.2L486,2083.2L488.9,2088.5L493.3,2085L497.1,2088.5L500.6,2085.6L503.5,2085L507,2090.8L511.6,2083.2L515.1,2087L518.6,2090.8L522.4,2086.2L526.7,2090.8L531.9,2090.8L536,2090.2L539.8,2087.3L544.1,2090.2L547.1,2089.1L551.4,2085.6L554.3,2086.2L557.2,2090.8L561,2092L563.9,2086.2L566.2,2084.4L568.3,2089.9L572,2090.8L575.5,2087.3L578.4,2089.1L581.9,2090.8L585.7,2089.6L590.1,2085L593,2087.9L595.9,2085.6L598.8,2090.8L603.1,2089.6L606.9,2091.4L611,2089.6L614.8,2090.8L619.1,2091.4L622.6,2087.3L625.5,2088.5L628.4,2085.6L631.3,2090.8L635.1,2087.9L638.9,2088.5L642.4,2091.4L646.7,2089.6L651.1,2092L656.9,2090.2L661.3,2089.1L665,2089.6L669.1,2086.2L672.9,2087.3L675.8,2086.2L679.6,2087.9L682.5,2090.8L686.5,2084.4L689.4,2087.9L693.2,2087.3L696.1,2088.5L699.9,2091.4L704,2090.2L707.7,2090.8L712.7,2085.6L716.5,2090.8L720.8,2091.4L725.2,2090.2L729,2088.5L732.4,2086.2L736.8,2090.8L740.6,2088.5L743.5,2085.6L747,2090.2L750.5,2087.3L755.1,2085L758.6,2087.3L763,2090.8L767.3,2089.1L770.8,2087.9L774.6,2090.2L778.4,2087.9L782.4,2090.2L785.3,2087.3L789.1,2084.4L792.9,2088.5L796.4,2087.3L799.3,2089.6L802.8,2088.5L806.5,2090.8L809.4,2082.7L811.5,2078.6L813.8,2088.5L816.1,2090.8L819,2089.1L822.5,2090.8L826,2088.5L829.8,2087.9L832.7,2088.5L836.5,2090.2L840,2090.8L844.3,2087.9L847.2,2087.3L851,2091.4L855.4,2087.9L859.1,2091.4L864.1,2086.2L867.9,2090.8L871.9,2089.1L877.2,2087.3L881.5,2089.6L885.3,2088.5L889.4,2090.8L894.6,2091.4L898.9,2090.2L903.3,2087.9L906.8,2090.8L910.6,2088.5L914.9,2091.4L919.3,2090.2L923.6,2088.5L928,2087.3L932.4,2087.9L935.3,2086.2L939.6,2087.9L943.4,2091.4L948.3,2090.2L954.2,2090.8L960,2092L967.2,2090.8L974.5,2090.2L981.2,2090.8L986.1,2087.9L990.5,2090.8L994,2089.1L997.7,2090.8L1001.5,2090.2L1005.6,2087.3L1009.4,2090.8L1014.3,2089.1L1019,2089.6L1022.4,2088.5L1026.8,2090.8L1031.2,2089.1L1037,2090.2L1041.3,2088.5L1045.1,2089.6L1048.6,2088.5L1052.1,2090.8L1055,2087.9L1057.9,2091.4L1061.7,2089.6L1066,2090.2L1070.4,2089.6L1074.7,2090.8L1079.1,2091.4L1083.5,2089.6L1086.4,2088.5L1089.9,2087.9L1093.6,2091.4L1098,2089.6L1103.8,2088.5L1108.2,2089.6L1114,2087.9L1118.3,2090.2L1122.7,2091.4L1126.5,2087.3L1130.5,2090.8L1134.3,2091.4L1137.2,2088.5L1141,2086.7L1145.4,2089.9L1149.7,2091.4L1155.5,2088.5L1159,2091.4L1164.2,2089.1L1168.6,2090.2L1173,2092L1177.3,2089.9L1181.7,2086.2L1185.2,2085.6L1188.1,2087.9L1193.3,2086.2L1197.7,2089.6L1202,2089.1L1206.4,2090.8L1210.7,2086.2L1215.1,2089.6L1219.5,2090.8L1223.8,2091.4L1228.2,2092L1232.5,2086.7L1236.9,2088.5L1241.3,2091.4L1245.6,2084.4L1250,2086.7L1254.3,2089.9L1258.7,2085L1262.5,2091.4L1266.5,2089.6L1270.3,2087.9L1274.1,2091.4L1277.6,2089.9L1281.9,2087.3L1284.8,2089.1L1289.2,2081.5L1292.1,2085.6L1295,2090.8L1297.9,2091.4L1301.4,2084.4L1304.3,2086.2L1306.6,2083.8L1309.5,2086.7L1312.4,2085.6L1315.3,2083.2L1318.3,2086.2L1321.2,2090.2L1324.1,2086.2L1327,2085.6L1329.9,2088.5L1332.8,2086.7L1335.7,2085.6L1338.6,2089.6L1343,2088.5L1347.3,2087.9L1351.7,2089.1L1356,2088.5L1359.5,2089.1L1363.3,2083.2L1366.2,2081.2L1369.1,2085.6L1372,2085.6L1375.8,2079.2L1378.7,2081.2L1381.6,2079.8L1384.5,2072.5L1387.4,2062.3L1390.3,2049.3L1393.2,2042L1396.1,2026L1397.9,2013.5L1400.2,2036.2L1401.9,2043.4L1404.8,2033.3L1406.9,2034.7L1409.8,2010L1411.8,1983.9L1413.6,1966.4L1415.6,1969.3L1417.6,1957.7L1419.4,1957.1L1421.4,1953.8L1422.9,1966.4L1424,2092.7Z"/>
<path d="M271,2247L271,2228L273.3,2235.2L275.4,2232.3L277.4,2228L279.1,2223.6L281.2,2232.3L283.2,2229.4L285.5,2236.7L287.9,2241L289.9,2236.7L291.9,2235.2L294.2,2238.1L297.2,2241L300.1,2237.3L303,2236.1L305.9,2241L308.8,2238.1L311.7,2241L314.6,2242.5L317.5,2235.2L320.4,2241L323.9,2239.6L326.8,2235.2L329.1,2241L332,2236.7L334.9,2238.1L337.8,2237.3L340.7,2238.1L343.6,2239L346.6,2235.2L349.5,2236.7L352.4,2236.1L355.8,2238.1L359.6,2235.2L363.4,2238.1L366.9,2239L369.8,2236.7L372.7,2229.4L375.6,2239.6L379.1,2229.4L381.4,2236.7L384.9,2238.1L387.2,2235.2L390.1,2236.7L393,2232.3L395.9,2230.9L398.9,2235.2L401.8,2237.3L404.7,2238.1L408.2,2235.2L411.1,2236.7L413.4,2239L416.3,2241L419.2,2239L422.1,2239.6L423.6,2229.4L425.6,2239L429.4,2239.6L432.3,2236.1L435.2,2237.3L439,2238.1L442.4,2239.6L444.8,2242.5L447.7,2238.1L450.6,2241.9L454.1,2241L457,2238.1L459.9,2241.9L462.8,2236.7L466.3,2241L469.2,2238.1L471.5,2241.9L474.4,2243.9L477.9,2239.6L480.8,2241.9L484.6,2243.9L487.5,2242.5L491.3,2243.9L494.7,2243.1L498.2,2241.9L502,2241L505.8,2243.1L509.3,2244.8L513.6,2243.9L518,2241.9L520.9,2239.6L524.4,2242.5L528.2,2243.9L532.5,2243.1L536,2241.9L539.8,2243.1L544.1,2241L547.1,2243.1L550,2239.6L552.9,2241.9L555.8,2242.5L558.7,2245.4L561,2243.9L563.3,2245.4L566.2,2241L569.1,2243.9L572,2239.6L574.9,2241L577.9,2238.1L580.8,2241L583.7,2245.4L586.6,2241L589.5,2235.2L592.4,2241L595.3,2238.1L598.2,2235.2L601.7,2241L604.6,2245.4L608.1,2242.5L611.9,2243.9L614.8,2239L616.8,2238.1L619.1,2242.5L622,2238.1L624.9,2239.6L628.4,2239.6L631.3,2236.7L633.6,2238.1L636,2232.3L638,2236.7L640,2237.3L642.9,2241L645.3,2238.1L647.6,2242.5L651.1,2245.4L654.6,2242.5L658.3,2241L661.3,2239L664.2,2236.7L667.9,2242.5L671.4,2243.9L674.9,2242.5L678.7,2243.1L682.5,2243.9L685.9,2241L689.4,2243.1L693.2,2244.8L697.6,2242.5L701.9,2241L705.7,2239.6L709.2,2241L712.1,2238.1L713.6,2235.2L716.5,2241L720.2,2242.5L724.3,2243.1L728.1,2245.4L732.4,2245.4L736.8,2243.9L739.7,2241.9L743.5,2243.1L747,2241L750.5,2243.1L754.2,2241L757.1,2242.5L760,2238.1L763,2245.4L765.9,2242.5L768.8,2239.6L771.7,2238.1L774.6,2239.6L777.5,2236.7L779.5,2241L782.4,2244.8L786.2,2243.9L789.1,2246L792,2243.1L796.4,2243.9L799.9,2241L803.6,2239.6L807.4,2238.1L810.9,2243.1L815.3,2245.4L819.6,2239.6L822.5,2238.1L826,2241L828.9,2242.5L832.7,2243.9L836.5,2242.5L840,2243.9L843.4,2245.4L847.2,2243.9L851,2244.7L855.4,2245.4L859.7,2241L862.6,2242.5L865.5,2243.9L869,2237.3L871.9,2241L875.7,2243.9L878.6,2241L882.4,2242.5L885.9,2241.9L889.4,2243.1L893.1,2241L896,2242.5L900.4,2241.9L904.8,2241L909.1,2239L912.6,2242.5L916.4,2243.9L920.7,2241L925.1,2241.9L929.5,2243.9L933.8,2242.5L937.6,2243.1L941.1,2245.4L945.4,2243.9L949.8,2243.1L953.3,2243.9L956.2,2239L959.1,2243.9L962.9,2239L965.8,2243.9L970.1,2243.1L973,2245.4L977.4,2246L981.8,2243.1L986.1,2241L989.9,2236.1L992.8,2242.5L996.3,2243.9L999.2,2245.4L1003.6,2239.6L1006.5,2241L1010.2,2236.7L1013.1,2243.9L1016.6,2245.4L1020.1,2242.5L1023.9,2241L1027.7,2243.1L1031.2,2245.4L1035.5,2243.9L1039.9,2243.1L1043.4,2243.9L1047.1,2242.5L1051.5,2243.9L1055.9,2245.4L1060.2,2243.9L1064.6,2243.1L1068.9,2244.8L1073.3,2243.9L1077.1,2242.5L1080.6,2244.8L1084.9,2243.9L1088.7,2241L1092.2,2244.8L1095.7,2243.1L1098.6,2241L1102.4,2243.9L1105.3,2242.5L1109,2243.9L1111.9,2241L1114.8,2239L1117.8,2241.9L1121.2,2243.9L1125.6,2243.1L1130,2243.9L1134.3,2244.8L1138.7,2243.1L1141,2243.2L1145.4,2242.5L1149.1,2245.4L1152.6,2243.1L1157,2243.9L1160.8,2242.5L1164.2,2244.8L1167.7,2236.7L1171.5,2242.5L1175.3,2239.6L1178.2,2237.3L1181.1,2239.6L1184,2238.1L1186.9,2241L1190.4,2242.5L1194.8,2239L1197.7,2237.3L1200.6,2244.8L1205.5,2245.4L1210.7,2241.9L1215.1,2241L1218.9,2239.6L1222.4,2245.4L1226.7,2242.5L1231.1,2240.2L1235.4,2243.9L1239.8,2241.9L1244.2,2241L1248.5,2242.5L1251.4,2239L1254.9,2245.4L1258.7,2245.4L1260.7,2236.7L1263,2242.5L1266.5,2241L1270.3,2241.9L1274.7,2241L1279,2239.6L1283.4,2242.5L1287.7,2242.5L1291.5,2241L1293.6,2242.5L1296.5,2239.6L1299.4,2242.5L1302.3,2236.7L1306.1,2241L1309.5,2239L1312.4,2235.2L1315.3,2238.1L1318.8,2239L1320.6,2235.2L1323.5,2241L1326.4,2235.2L1329.3,2239L1332.8,2236.7L1335.7,2239.6L1338.6,2237.3L1342.1,2241L1345.9,2242.5L1349.6,2241L1353.1,2239.6L1356.6,2236.7L1359.5,2239.6L1362.4,2235.2L1365.3,2236.7L1369.1,2228.5L1372,2236.7L1375.8,2226.5L1378.7,2236.7L1380.7,2241L1382.8,2228L1385.7,2219.2L1388,2207.6L1390.3,2204.7L1393.2,2190.2L1395.5,2181.5L1398.2,2180.9L1400.2,2181.5L1402.5,2190.2L1405.4,2201.8L1407.8,2187.3L1409.8,2169.8L1411.8,2155.3L1414.1,2132.1L1416.5,2129.2L1419.4,2137.9L1420.5,2140.8L1422.3,2108.8L1424,2247Z"/>
<path d="M271,2401.2L271,2375.7L273.9,2377.1L276.8,2381.5L279.7,2374.2L282,2373.7L284.1,2376.6L286.1,2387.3L288.4,2385.3L290.8,2391.1L293.7,2388.2L296.6,2390.2L299.5,2385.9L302.4,2386.4L305.9,2375.7L308.8,2384.4L311.7,2388.2L314.6,2385.3L317.5,2382.9L320.4,2383.5L322.7,2382.4L325.6,2385.9L327.7,2382.9L330.6,2393.1L333.5,2381.5L336.4,2383.5L338.4,2385.9L340.7,2376.6L343.1,2385.9L346,2386.4L349.5,2385.9L352.9,2382.9L355.8,2379.5L358.2,2388.2L361.1,2382.4L364,2377.1L366.9,2380L369.2,2371.3L371.3,2380L373.3,2388.2L376.2,2380.6L379.1,2382.9L382.9,2388.2L385.8,2385.9L387.8,2387.3L390.7,2383.5L393,2388.2L395.4,2393.1L398.9,2385.9L401.8,2391.7L404.7,2382.9L407.6,2378.6L410.5,2388.2L412.8,2387.3L415.7,2379.5L418.6,2372.8L422.1,2381.5L425.6,2385.9L429.4,2390.2L431.4,2393.1L435.2,2389.3L439,2387.3L442.4,2389.3L445.9,2391.1L448.8,2393.1L451.7,2390.2L454.1,2393.4L457,2391.1L459.9,2392.2L464.2,2392.2L467.1,2398.9L471.5,2394L475.9,2390.5L478.8,2392.2L481.7,2388.8L484.6,2393.1L488.4,2394.6L490.4,2391.1L493.3,2396.9L497.7,2393.1L500.6,2391.1L503.5,2393.4L507,2398.1L509.9,2393.1L512.8,2388.2L515.7,2396L519.4,2396L521.5,2388.8L524.4,2394.6L528.2,2392.8L531.1,2396.9L534.8,2392.2L537.8,2396.9L541.2,2397.5L545.6,2392.2L548.5,2394.6L551.4,2394L555.2,2391.1L558.7,2389.3L561,2387.3L563.3,2394L565.4,2396.9L569.1,2393.1L572.6,2395.2L575.5,2396.9L579,2394.6L582.8,2396L587.2,2392.2L590.6,2394L593.5,2389.3L596.5,2385.9L599.4,2391.7L603.1,2397.5L606.9,2394L611,2391.1L613.9,2394L617.7,2392.2L620.6,2396L623.5,2391.1L626.4,2394.6L629.3,2390.2L632.2,2380.6L634.2,2387.3L637.1,2394L640.9,2398.9L644.7,2394.6L648.2,2397.5L651.7,2395.2L654.6,2392.2L657.5,2393.1L660.4,2390.2L663.3,2387L666.2,2392.2L670,2394.6L674.3,2393.1L677.8,2391.7L681.6,2390.2L685.4,2387.3L688.9,2391.1L692.3,2394.6L697,2398.6L699.9,2388.8L702.8,2390.2L705.7,2388.8L708.6,2391.7L711.5,2394.6L714.4,2393.1L717.3,2394.6L719.4,2393.1L722.3,2394.6L725.2,2396L727.2,2391.7L729.5,2396.9L731.9,2394.6L734.8,2392.2L737.7,2401L740.6,2392.2L743.5,2391.1L747,2395.2L750.5,2391.1L752.8,2388.8L755.7,2392.2L758.6,2395.2L761.5,2398.1L765.9,2394.6L769.6,2396.9L772.5,2398.6L776,2395.2L778.4,2400.4L781.8,2394.6L784.7,2392.2L787.7,2394.6L790.6,2394L793.5,2394.6L796.4,2393.1L798.7,2385.9L801.6,2384.4L804.5,2391.7L808,2398.1L811.5,2395.2L814.4,2393.4L817.3,2397.5L821.1,2396.9L824.8,2394L827.8,2394.6L830.7,2393.4L834.1,2395.2L838.5,2394L841.4,2395.7L845.2,2396.3L848.7,2397.5L851,2399.4L853.9,2396.9L856.8,2395.2L859.7,2390.2L862.6,2392.2L865.5,2396.9L869,2392.2L871.9,2396.9L875.7,2393.4L880.1,2396L884.4,2398.1L888.8,2394.6L892.3,2393.4L896,2400.4L898.9,2396L901.9,2391.1L906.2,2394.6L910.6,2392.2L914.9,2395.2L919.3,2396L923.1,2393.1L927.1,2400.4L930.9,2391.7L934.7,2391.1L938.2,2392.2L940.5,2389.3L943.4,2394L946.9,2391.1L950.4,2396L955,2396.9L960,2393.4L964.3,2396.3L967.2,2398.1L970.7,2395.7L975.4,2394L978.3,2398.1L981.8,2396.9L984.7,2394.6L988.2,2392.2L991.9,2394.6L994.8,2395.7L997.7,2395.2L1001.5,2398.1L1005,2396.9L1007.9,2392.2L1010.8,2398.1L1013.7,2400.4L1017.2,2400.4L1020.1,2395.2L1023,2396.9L1026.8,2396.3L1030.6,2398.6L1034.1,2394.6L1038.4,2393.1L1041.3,2397.5L1045.1,2393.4L1048.6,2396.3L1053,2400.4L1056.7,2396.9L1060.2,2395.2L1064.6,2392.2L1068.4,2397.5L1071.8,2398.6L1075.3,2394L1078.2,2396.3L1082,2393.4L1084,2395.7L1087,2394L1089.9,2392.8L1092.8,2395.7L1095.7,2400.4L1098.6,2390.2L1101.5,2394.6L1104.4,2393.4L1108.2,2393.1L1111.9,2394.6L1115.4,2398.6L1118.9,2396.9L1122.7,2395.7L1126.5,2394.6L1129.4,2396.9L1132.9,2394.6L1137.2,2395.7L1141,2394.3L1143.9,2392.2L1146.8,2396L1149.7,2394L1153.2,2397.5L1157,2396.3L1160.8,2396.9L1164.2,2394.6L1167.7,2396.3L1171.5,2395.2L1175.3,2397.5L1178.8,2398.1L1181.1,2391.7L1183.1,2389.3L1186,2391.7L1188.9,2390.2L1191.9,2391.7L1194.8,2391.1L1197.7,2392.2L1200.6,2396L1203.5,2394.6L1206.4,2396L1209.3,2393.1L1212.2,2396L1216,2394.6L1219.5,2396.9L1223.8,2400.4L1227.6,2394.6L1231.1,2394L1234.6,2391.7L1237.5,2390.2L1239.8,2384.4L1242.1,2391.7L1245,2393.1L1247.9,2392.2L1250.8,2389.3L1252.9,2393.1L1255.8,2388.8L1258.7,2392.2L1261.6,2396.9L1264.5,2400.4L1268.9,2394.6L1273.2,2393.1L1277,2394.6L1279.9,2396.9L1283.4,2391.7L1286.3,2389.3L1289.8,2394.6L1292.7,2388.2L1295,2380L1297.9,2382.9L1300.2,2392.2L1303.1,2388.2L1306.6,2383.5L1309.5,2385.9L1313,2388.2L1315.9,2385.9L1318.8,2380L1321.7,2377.7L1324.1,2375.7L1327,2380.6L1329.9,2377.7L1332.8,2385.9L1335.7,2380.6L1338.6,2390.2L1341.5,2385.9L1344.4,2381.5L1347.3,2388.2L1350.2,2394.6L1353.1,2391.1L1356.6,2389.3L1359.5,2391.1L1362.4,2388.2L1365.3,2390.2L1367.7,2377.7L1370,2380L1372.9,2394L1375.8,2388.2L1378.7,2374.2L1381.6,2368.4L1384.5,2364.1L1387.4,2364.9L1390.3,2353.9L1393.2,2342.3L1396.1,2321.9L1398.2,2298.7L1399.6,2297.2L1401.4,2316.1L1404,2329.2L1406,2343.7L1407.8,2324.8L1409.8,2298.7L1411.8,2275.4L1414.1,2271.9L1416.5,2278.9L1418.5,2275.4L1420.5,2266.7L1422.3,2263.2L1424,2401.2Z"/>
<path d="M271,2555.5L271,2532.6L273.9,2538.4L276.8,2535.5L279.7,2531.1L282,2529.7L284.1,2526.8L286.1,2532.6L288.4,2541.3L291.3,2539.9L294.2,2542.8L297.2,2545.7L300.1,2538.4L303,2539.9L305.9,2534.1L308.8,2537.5L311.7,2536.4L314.6,2537.5L318.1,2544.2L321.9,2545.7L324.8,2547.1L327.7,2546.3L330.6,2548.6L333.5,2544.2L336.4,2541.3L339.3,2545.7L342.2,2543.4L345.1,2541.3L348,2545.7L350.9,2545.7L353.8,2538.4L356.7,2541.3L359.6,2544.2L362.5,2541.3L365.4,2546.3L368.3,2550L371.3,2547.1L374.2,2545.1L378.5,2544.2L382.9,2543.4L385.8,2548.6L388.7,2544.2L391.6,2541.3L394.5,2542.8L397.4,2535.5L400.3,2537L402.3,2534.1L404.7,2537L407.6,2538.4L410.5,2539.3L413.4,2540.4L416.3,2544.2L419.2,2538.4L422.1,2541.3L425,2546.3L427.9,2547.1L430.2,2544.2L433.7,2542.8L436.6,2534.1L439.5,2538.4L441.9,2541.3L444.8,2545.7L448.3,2541.3L451.2,2545.1L454.1,2548L457,2546.3L459.9,2544.2L462.8,2548.6L465.7,2547.1L468.6,2546.3L471.5,2541.3L474.4,2548.6L477.9,2552.1L481.7,2550.9L486,2551.5L488.9,2552.9L491.3,2548.6L494.2,2539.9L497.7,2541.3L501.1,2545.7L504.9,2552.9L508.7,2550L512.2,2545.7L515.7,2544.2L519.4,2547.1L521.5,2545.7L523.8,2551.5L528.2,2550L531.9,2546.3L535.4,2550L539.8,2550.9L544.1,2551.5L548.5,2550L552.3,2547.1L555.8,2551.5L558.7,2545.7L561,2550.8L563.9,2550L566.8,2547.1L569.7,2551.5L573.2,2550.9L577,2552.1L580.8,2550L583.7,2551.5L587.7,2547.1L590.1,2544.2L593,2551.5L596.5,2550L599.4,2544.2L601.7,2542.8L604.6,2552.9L607.5,2547.1L610.4,2550L613.9,2551.5L617.7,2550L620.6,2548L624.3,2552.1L627.8,2548.6L630.7,2547.1L633.6,2550L637.1,2548.6L640,2547.1L642.9,2544.2L645.8,2550.9L648.8,2550L652.5,2544.2L655.4,2550L658.3,2548.6L661.3,2545.7L664.2,2550L668.5,2548.6L672,2548L674.9,2546.3L677.8,2550L680.7,2545.7L683,2544.2L686.5,2548.6L690.3,2541.3L693.2,2548.6L696.1,2545.7L699,2548.6L702.8,2551.5L706.3,2550.9L709.8,2548.6L712.7,2547.1L715.6,2545.7L718.5,2547.1L721.4,2550L725.2,2551.5L729,2550.9L732.4,2552.9L735.3,2548.6L738.3,2554.4L741.2,2550L744.1,2547.1L747,2550L750.5,2552.9L754.2,2548.6L757.1,2551.5L760.9,2553.8L764.4,2552.1L767.9,2550L770.8,2548.6L773.7,2550.9L777.5,2548L780.4,2551.5L783.3,2550L786.2,2551.5L789.1,2548L792,2544.2L794.9,2548.6L797.8,2542.8L800.7,2550L803.6,2548.6L807.4,2547.1L810.3,2549.2L813.8,2550L817.3,2548.6L821.1,2547.1L824.8,2545.7L828.3,2550L832.7,2551.5L836.5,2552.1L840,2547.1L843.4,2553.8L847.2,2550L851,2547.9L853.9,2548.6L857.4,2551.5L861.2,2550L864.9,2548L868.4,2550L871.9,2552.1L875.7,2550L878.6,2547.1L882.4,2548.6L885.3,2547.1L888.2,2546.3L891.1,2548L894,2552.9L897.5,2550L900.4,2548L903.3,2545.1L906.2,2548.6L909.1,2550L912.6,2548.6L915.5,2552.1L919.3,2553.8L923.1,2551.5L927.1,2552.1L930.9,2550L934.7,2548.6L938.2,2551.5L941.7,2550L944.6,2551.5L947.5,2550L950.4,2548.6L953.3,2550L956.2,2552.9L959.1,2554.4L962.9,2550.9L966.7,2550L970.1,2552.1L973,2550L976.5,2552.1L979.4,2550.9L982.3,2548.6L985.2,2552.1L988.2,2548L991.1,2550L994.8,2552.1L998.6,2552.9L1002.1,2554.4L1006.5,2552.1L1010.2,2551.5L1013.7,2550L1017.2,2548.6L1020.1,2550.9L1023.9,2550L1027.7,2549.2L1031.2,2548L1034.6,2550.9L1037.6,2550L1040.5,2548.6L1043.4,2551.5L1046.3,2550L1050,2552.9L1053.8,2550.9L1057.9,2552.1L1061.7,2550L1064.6,2552.1L1068.4,2550L1071.3,2551.5L1074.2,2550L1077.7,2550.9L1080.6,2550L1083.5,2552.1L1087,2550L1090.7,2551.5L1094.5,2548.6L1097.4,2552.1L1100.3,2548.6L1103.2,2550L1106.1,2551.5L1110.2,2552.1L1114,2550L1116,2545.1L1118.9,2547.1L1121.8,2550L1125.6,2548.6L1129.4,2550L1132.9,2550.9L1137.2,2550L1141,2550L1143.9,2548.6L1146.8,2554.4L1150.3,2548L1154.1,2550L1157,2548L1159.9,2550L1163.7,2548.6L1167.2,2551.5L1170.1,2548L1173.5,2550.9L1177.3,2548.6L1181.7,2547.1L1184.6,2551.5L1188.1,2548.6L1191,2547.1L1193.9,2545.1L1196.8,2551.5L1200.6,2550L1204.3,2550.9L1208.4,2551.5L1212.2,2550L1216,2551.5L1220,2544.2L1222.9,2550L1226.7,2550L1229.6,2548.6L1233.4,2551.5L1236.3,2547.1L1239.2,2546.3L1242.1,2550L1245,2547.1L1248.5,2552.1L1251.4,2548.6L1254.9,2552.9L1258.7,2551.5L1263,2550.9L1267.4,2552.1L1271.8,2552.9L1275.2,2547.1L1278.2,2548.6L1281.1,2551.5L1284,2547.1L1287.7,2548L1291.5,2547.1L1295,2545.7L1298.5,2545.1L1301.4,2542.2L1304.3,2541.3L1307.2,2547.1L1310.1,2545.7L1313.9,2547.1L1317.7,2548L1321.2,2544.2L1324.6,2541.3L1327.6,2537.5L1331.3,2534.1L1332.8,2532.6L1335.1,2539.9L1338.6,2547.1L1341.5,2551.5L1344.4,2547.1L1347.9,2545.7L1350.8,2547.1L1353.7,2550L1356.6,2548L1359.5,2551.5L1362.4,2545.7L1366.2,2544.2L1370,2542.2L1373.5,2539.9L1375.8,2534.6L1378.7,2535.5L1380.7,2539.9L1382.8,2532.6L1384.5,2518.1L1387.4,2513.7L1390.3,2502.1L1393.2,2493.4L1396.1,2484.7L1398.2,2470.1L1399.6,2466.6L1401.9,2478.8L1404,2490.5L1406,2486.1L1407.8,2482.3L1409.8,2490.5L1411.8,2455.6L1413.6,2439.6L1415.6,2439.6L1417.1,2428L1419.4,2445.4L1421.4,2420.7L1422.9,2416.6L1424,2555.5Z"/>
<path d="M271,2709.8L271,2708.4L273.3,2682.2L277.4,2650.3L281.2,2667.7L283.2,2702.6L284.9,2701.1L287,2690.4L289.9,2708.4L293.7,2690.4L297.2,2708.4L302.4,2650.3L305.3,2688L307.3,2670L310.2,2682.2L313.1,2690.9L317.5,2698.2L323.3,2708.4L332,2690.4L337.8,2708.4L343.6,2690.4L349.5,2708.4L356.7,2690.4L358.8,2708.4L361.1,2690.4L363.4,2708.4L366.3,2690.4L369.8,2708.4L372.7,2688L374.4,2670L377.1,2682.2L379.1,2670L381.4,2702.6L383.7,2708.4L384.9,2690.4L387.2,2708.4L391.6,2670L395.9,2708.4L399.4,2670L403.2,2708.4L406.1,2690.4L411.9,2708.4L417.7,2690.4L420.6,2708.4L424.4,2670L427.9,2708.4L430.8,2690.4L435.2,2708.4L437.2,2693.9L440.4,2630.5L443,2708.4L445.9,2690.4L448.3,2708.4L451.2,2690.4L454.6,2708.4L461.3,2670L468.6,2708.4L475.9,2690.4L484.6,2708.4L489.5,2693.9L493.3,2670L497.1,2708.4L502.9,2690.4L508.7,2708.4L516.5,2630.5L520.9,2664.8L528.2,2708.4L535.4,2670L544.1,2708.4L547.1,2670L549.4,2708.4L557.2,2670L561,2690.9L563.3,2708.4L568.3,2670L571.2,2708.4L573.2,2690.4L575.5,2708.4L579,2650.3L582.8,2670.6L585.7,2688L590.1,2670.6L592.4,2650.3L594.4,2664.8L597.3,2590.7L599.4,2682.2L601.7,2708.4L606,2650.3L610.4,2682.2L613.9,2708.4L618.5,2650.3L622.6,2708.4L626.4,2699.7L630.7,2670L633.6,2708.4L638,2670L640.9,2688L642.9,2670L645.8,2708.4L648.2,2690.4L650.5,2708.4L654.6,2670L658.3,2682.2L660.7,2670L663.3,2708.4L668.5,2670L670.8,2682.2L673.2,2670L677.2,2708.4L684.5,2690.4L688.3,2708.4L691.2,2670L694.7,2708.4L698.2,2690.4L703.4,2708.4L708.6,2690.4L713.6,2708.4L722.3,2670L726.1,2708.4L729.5,2690.4L738.3,2708.4L748.4,2670L751.3,2708.4L754.2,2670L757.1,2708.4L762.1,2650.3L765.9,2682.2L769.6,2650.3L771.7,2661.9L773.7,2650.3L777.5,2708.4L784.7,2650.3L789.1,2708.4L793.5,2653.2L797.8,2611L800.7,2641.6L802.8,2630.5L805.7,2661.9L810.3,2708.4L816.1,2670L819.6,2688L823.1,2670L827.8,2708.4L834.1,2690.4L838.5,2708.4L848.1,2670L851,2682.2L854.5,2708.4L859.1,2650.3L864.1,2708.4L871.9,2670L885.3,2708.4L890.2,2670L893.1,2690.9L897.5,2708.4L905.6,2690.4L910.6,2708.4L918.4,2670L922.2,2690.9L928.9,2708.4L933.8,2696.8L938.8,2670L943.4,2708.4L947.5,2690.4L952.1,2708.4L959.1,2670L962.9,2708.4L966.7,2650.3L970.7,2708.4L976.5,2650.3L980.3,2682.2L984.1,2670L987,2682.2L990.5,2650.3L994,2676.4L996.3,2708.4L1000.6,2670L1002.7,2682.2L1006.5,2630.5L1010.8,2699.7L1012.3,2708.4L1019.5,2670L1023.9,2708.4L1030.6,2650.3L1034.6,2708.4L1037.6,2670L1042.2,2708.4L1050,2670L1056.7,2708.4L1065.4,2690.4L1069.5,2708.4L1074.2,2611L1078.2,2659L1082,2630.5L1087,2708.4L1091.6,2690.4L1093.6,2708.4L1096.5,2690.4L1102.4,2708.4L1108.2,2670L1111.1,2708.4L1114.8,2690.4L1116.9,2708.4L1119.8,2670L1121.8,2699.7L1124.7,2670L1127.1,2682.2L1129.4,2670L1133.4,2708.4L1138.7,2670L1141,2689.5L1146.2,2708.4L1154.1,2650.3L1157.9,2708.4L1162.8,2690.4L1167.7,2708.4L1170.6,2690.4L1173,2708.4L1176.5,2670L1181.1,2688L1184.6,2670L1188.1,2690.9L1191.9,2708.4L1198.5,2690.4L1202,2708.4L1206.4,2630.5L1210.2,2708.4L1215.1,2650.3L1218,2708.4L1220.9,2690.4L1223.8,2708.4L1227.6,2670L1229.6,2688L1231.7,2670L1234.6,2708.4L1238.3,2670L1244.2,2708.4L1247.9,2611L1250,2621.2L1251.4,2611L1254.9,2708.4L1259.6,2670L1263.6,2708.4L1266.5,2650.3L1268.9,2667.7L1271.2,2650.3L1274.7,2708.4L1277.6,2670L1279.9,2688L1282.5,2670L1286.3,2708.4L1291.5,2650.3L1295,2708.4L1300.2,2676.4L1304.3,2590.7L1309,2667.7L1312.4,2688L1317.7,2570.9L1321.7,2693.9L1324.9,2670L1327,2688L1329.3,2670L1331.3,2682.2L1333.4,2670L1338.6,2708.4L1343.8,2670L1350.2,2708.4L1355.4,2690.4L1357.5,2650.3L1361.8,2708.4L1367.7,2630.5L1372,2682.2L1374,2650.3L1375.8,2664.8L1379.3,2630.5L1382.2,2682.2L1385.1,2650.3L1389.4,2682.2L1392.4,2630.5L1398.2,2708.4L1404,2650.3L1408.3,2708.4L1412.7,2630.5L1418.5,2708.4L1422.3,2650.3L1424,2709.8Z"/>
<path d="M271,2864L271,2853.7L275.4,2863L279.7,2856.6L284.1,2852.2L287.9,2858L291.9,2863L297.2,2859.5L300.1,2860.9L304.4,2856.6L308.2,2853.7L311.1,2856.6L315.2,2849.3L318.9,2855.1L322.7,2858L326.2,2855.1L330.6,2860.1L336.4,2856L340.7,2849.3L343.6,2850.8L346,2849.3L349.5,2853.7L354.7,2859.5L359.6,2856.6L365.4,2853.7L369.8,2858L373.3,2863L378.5,2858L382.9,2853.7L387.2,2856L391.6,2853.1L395.9,2855.1L400.3,2859.5L404.1,2856.6L406.1,2858L409,2854.3L412.8,2858L415.7,2863L420.6,2850.8L424.4,2849.3L429.4,2849.3L432.3,2858L435.2,2860.9L439.5,2863L445.3,2855.1L448.8,2846.4L452.6,2853.7L457,2858.9L461.3,2860.9L465.7,2856.6L470,2852.2L473.8,2860.1L477.3,2847.3L480.2,2845L483.1,2859.5L486,2860.9L490.4,2847.3L493.3,2839.1L496.2,2850.8L499.1,2858.9L502,2856.6L506.4,2852.2L510.7,2858L518,2859.5L529.6,2863.8L538.3,2859.5L542.7,2855.1L545.6,2858L548.5,2854.3L551.4,2852.2L554.3,2849.3L557.2,2852.2L561,2860.9L566.2,2858L572,2854.3L575.5,2858L578.4,2856L580.8,2858L583.7,2854.3L587.2,2859.5L590.6,2859.5L594.4,2854.3L598.8,2859.5L603.1,2860.9L608.1,2863.8L612.7,2861.8L616.8,2858.9L621.4,2854.3L625.5,2862.4L629.3,2858L631.3,2843.5L633.6,2839.1L636,2843.5L638,2858L641.8,2859.5L645.8,2856L649.6,2858L653.4,2863L658.3,2859.5L662.7,2856.6L667.1,2853.1L671.4,2844.4L674.3,2852.2L676.7,2849.3L679.6,2858L683,2862.4L688.3,2858L691.8,2854.3L695.2,2858L699,2860.9L701.9,2853.1L705.7,2849.3L709.2,2850.8L712.7,2858L715,2855.1L718.5,2849.3L722.3,2855.1L725.2,2860.9L729,2854.3L732.4,2860.9L736.8,2861.8L741.7,2863.8L747,2861.8L752.8,2859.5L757.1,2860.1L761.5,2858L765.9,2856L769.6,2856L772.5,2842.1L776.6,2827.5L779.5,2840.6L781.8,2859.5L784.7,2863L787.7,2860.9L792,2854.3L795.8,2858L801.6,2849.3L805.1,2856.6L808.6,2861.8L812.4,2863L816.1,2859.5L820.2,2858L824,2854.3L827.8,2858L831.2,2856.6L835.6,2860.9L840,2859.5L843.4,2855.1L847.2,2853.7L849.3,2847.3L851,2847.9L854.5,2847.3L856.8,2858L863.2,2863.8L869.9,2860.9L874.8,2856.6L881.5,2844.4L885.9,2852.2L888.8,2855.1L894.6,2863L898.9,2853.7L904.8,2841.5L909.1,2852.2L913.5,2859.5L919.3,2858L923.1,2863L927.1,2856.6L930.9,2847.9L933.8,2852.2L935.3,2850.8L938.2,2856.6L942.5,2858L946.9,2860.9L952.1,2846.4L956.2,2839.1L959.1,2847.9L961.4,2859.5L964.9,2856.6L968.7,2853.7L972.5,2860.9L976.5,2863L981.2,2859.5L985.2,2860.9L990.5,2849.3L994,2855.1L999.2,2863L1003.6,2860.9L1007.9,2858L1012.3,2860.9L1016.6,2863L1022.4,2859.5L1026.8,2853.7L1031.2,2855.1L1033.5,2853.7L1037.6,2859.5L1041.3,2860.9L1045.1,2853.7L1049.2,2858L1053.8,2863L1060.2,2861.8L1066,2858L1070.4,2852.2L1074.2,2844.4L1076.2,2849.3L1079.1,2844.4L1082,2847.3L1085.8,2855.1L1088.7,2860.9L1092.2,2859.5L1095.7,2860.9L1100.3,2853.7L1103.8,2859.5L1106.7,2858L1111.1,2837.7L1114.8,2824.6L1117.8,2827.5L1119.8,2834.8L1122.7,2834.8L1125.6,2821.7L1127.6,2815.9L1130.5,2824.6L1132.9,2837.7L1135.8,2836.2L1138.1,2834.8L1141,2843.9L1143.9,2860.9L1148.3,2858L1152.6,2854.3L1156.1,2859.5L1159.9,2860.1L1163.7,2863L1168.6,2858L1172.4,2852.2L1175.3,2844.4L1178.8,2852.2L1182.3,2862.4L1187.5,2858L1192.7,2849.3L1195.6,2852.2L1199.1,2859.5L1203.5,2858L1207.3,2856.6L1211.3,2859.5L1215.1,2862.4L1220.9,2858.9L1225.3,2860.9L1229.6,2863L1234,2858L1238.3,2854.3L1240.4,2858L1243.3,2854.3L1247.1,2858L1251.4,2856.6L1255.8,2849.3L1258.7,2839.1L1261.6,2845L1264.5,2859.5L1268.9,2860.1L1273.2,2858L1276.1,2854.3L1279,2855.1L1281.1,2854.3L1283.4,2855.1L1285.7,2854.3L1287.7,2856.6L1290.6,2856.6L1293.6,2858L1296.5,2860.1L1300.8,2858L1305.2,2854.3L1309,2862.4L1312.4,2858L1315.9,2849.3L1319.7,2855.1L1324.1,2862.4L1329.3,2859.5L1332.8,2858L1336.3,2856.6L1338.6,2844.4L1340.9,2839.1L1343.8,2846.4L1347.3,2862.4L1351.7,2862.4L1357.5,2855.1L1360.4,2852.2L1363.3,2860.1L1367.7,2859.5L1372,2852.2L1374.9,2858L1378.7,2861.8L1382.2,2863L1386.5,2853.7L1388.6,2833.3L1392.4,2779.6L1395.3,2754.9L1399,2725.1L1401.1,2752L1404,2792.7L1406,2842.1L1407.8,2840.6L1409.8,2833.3L1411.8,2831.9L1414.1,2842.1L1416.5,2842.1L1418.5,2840.6L1420.5,2839.1L1422.2,2839.1L1422.2,2864L1424,2864Z"/>
<path d="M271,3018.3L271,2994.1L273.3,3008.7L275.4,3017.4L278.3,2994.1L280.3,2988.3L282,2989.8L284.1,2982.5L286.1,2997L288.4,3001.4L294.2,3008.7L303,3017.4L313.1,3006.3L323.9,3017.4L334.9,3007.2L338.4,2994.1L340.7,3002.9L343.6,2988.3L346,2991.2L349.5,2957.8L351.8,2965.1L353.8,2970.9L355.8,3008.7L358.8,3005.8L360.5,3008.7L364,3017.4L368.3,3006.3L371.3,3010.1L375.6,3006.3L381.4,3017.4L388.7,3006.3L395.9,3017.4L400.3,3002.9L403.8,2982.5L407.6,2997L410.5,3017.4L414,2982.5L416.9,2991.2L419.8,3011.6L422.1,3005.8L424.4,3017.4L429.4,3006.3L433.1,3011.6L435.2,3017.4L439,3005.8L443,3017.4L447.7,2999.9L451.7,2982.5L455.5,3002.9L459.3,3008.7L464.2,3017.4L469.2,3005.8L473.8,2999.9L475.9,3010.1L477.9,3006.3L480.8,3011.6L484.6,2999.9L488.4,2976.7L491.8,2963.6L495.3,2976.7L499.1,2991.2L503.5,3017.4L507.8,2999.9L511.6,2988.3L514.5,2997L517.4,2992.7L519.4,2988.3L521.5,2997L524.4,2993.6L528.2,3002.9L531.1,3017.4L534,3006.3L537.8,2999.9L540.7,3008.7L544.1,2999.9L547.1,3008.7L549.4,3017.4L554.3,2994.1L558.1,2976.1L561,2984L563.9,3001.4L571.2,3017.4L581.9,3006.3L585.7,3010.1L589.5,2981.9L593.5,2999.9L602.3,3017.4L612.7,3006.3L616.2,3017.4L622,2994.1L624.9,2999.9L627.3,3017.4L633.6,3002.9L638,2987.7L640.9,2997L645.3,3005.2L649.6,2999.4L653.4,2991.2L656.3,2976.1L658.3,2976.7L660.4,2969.4L662.7,2992.7L667.9,3005.8L674.9,3017.4L689.4,3006.3L692.3,3017.4L695.2,3006.3L700.5,3017.4L706.3,2994.1L708.6,3002.9L710.6,2992.7L714.4,2981.9L719.4,2999.9L722.3,3017.4L725.2,3006.3L740.6,3017.4L753.4,3011.6L758,2994.1L760.9,2997L765.9,2981.9L769.6,3002.9L773.1,3017.4L781.8,2999.9L784.2,3002.9L787.1,2981.9L789.1,2985.4L791.1,2981.9L794,3005.8L796.4,3011.6L799.3,3017.4L808,2999.9L810.9,3008.7L813.2,2994.1L816.7,2999.9L822.5,3017.4L827.8,3008.7L832.7,2999.9L835.6,3005.8L837.6,2999.9L840,3005.8L842.9,2999.9L847.2,3008.7L851,3013.8L854.5,3017.4L861.2,3005.8L864.9,2988.3L868.4,2999.9L874.2,3011L877.7,3007.2L881.5,2982.5L885.3,3002.9L888.8,2994.1L891.7,3008.7L895.2,3017.4L902.7,3006.3L906.2,3010.1L911.4,2994.1L914.3,3004.3L916.4,2999.9L920.2,3005.2L923.1,2999.9L926.6,2988.3L928.9,2997L931.8,2994.1L935.8,3005.8L941.7,3017.4L946.9,3008.7L949.8,2982.5L952.7,2946.2L955,2970.9L958.5,3005.8L961.4,2999.9L964.9,3004.3L968.7,2988.3L971.6,2976.7L975.4,2981.1L978.9,2970.9L982.3,2958.7L985.2,2988.3L988.2,3002.9L991.1,3017.4L994.8,2999.9L999.2,2988.3L1001.5,2997L1003.6,2994.1L1006.5,3002.9L1010.2,3017.4L1015.2,3007.2L1021.9,2994.1L1025.3,3017.4L1028.8,3001.4L1031.7,2997L1035.5,2970.3L1038.4,2982.5L1040.5,2976.1L1042.8,2985.4L1045.1,2982.5L1048.6,3008.7L1053.8,2994.1L1058.8,3004.3L1066,2994.1L1068.9,2982.5L1071.3,2997L1074.2,2976.1L1077.1,2988.3L1080.6,3008.7L1084.9,3017.4L1090.7,2994.1L1095.1,2982.5L1100.9,2999.9L1103.8,3017.4L1109,3007.2L1112.5,2982.5L1114.8,2991.2L1116.9,2982.5L1118.3,2991.2L1120.7,2963.6L1123.6,2968L1126.5,2973.8L1129.4,2963.6L1131.4,2972.3L1134.3,2963.6L1137.2,2976.7L1141,2992L1143.9,2995.6L1146.8,2999.9L1149.1,3010.1L1151.2,3006.3L1153.2,3010.1L1157,2999.9L1160.8,3008.7L1165.7,3017.4L1170.1,3008.7L1173.5,2994.1L1177.3,3002.9L1180.2,3017.4L1184.6,2991.2L1188.1,2959.3L1190.4,2953.5L1192.7,2952L1196.2,2970.9L1199.1,2999.9L1202,3017.4L1206.4,2994.1L1209.9,2982.5L1213.1,3002.9L1218,3010.1L1221.8,3005.8L1223.8,3010.1L1227.6,3006.3L1231.1,3010.1L1234.6,3017.4L1241.3,3006.3L1246.2,3017.4L1251.4,2994.1L1256.7,3017.4L1261.6,3004.3L1265.4,2994.1L1268.3,3005.8L1274.1,2982.5L1277.6,2999.9L1281.1,3017.4L1284,3006.3L1297.9,3017.4L1313.9,3006.3L1323.5,3017.4L1328.4,2988.3L1331.3,2969.4L1334.2,2989.8L1336.3,2982.5L1338.6,3005.8L1342.1,3017.4L1346.7,3011.6L1350.8,2969.4L1354.6,2985.4L1358.4,3017.4L1364.7,3006.3L1369.1,3017.4L1373.5,3008.7L1377.8,2989.8L1380.7,2982.5L1383.6,2997L1385.7,3011.6L1388.6,2953.5L1390.9,2901.2L1393.8,2879.4L1396.1,2915.7L1399,2933.1L1401.1,2953.5L1403.1,2975.3L1405.4,2992.7L1407.8,2970.9L1409.8,2963.6L1412.7,2978.2L1414.7,2979.6L1417.1,2965.1L1419.4,2957.8L1421.8,2991.2L1422.2,2991.2L1422.2,3018.3L1424,3018.3Z"/>
<path d="M271,3172.5L271,3149.6L273.9,3142.3L276.2,3149.6L279.1,3161.2L282,3165.6L284.1,3149.6L287,3143.8L289,3141.8L291.3,3156.9L294.2,3165.6L297.7,3169.9L301.5,3161.2L305.3,3156.3L309.4,3159.8L313.1,3162.7L316.9,3156.9L319.8,3161.2L321.9,3156.9L323.9,3162.7L327.7,3169.9L332,3161.2L335.5,3156.3L338.4,3165.6L341.3,3164.1L343.6,3167L347.1,3162.7L349.5,3158.3L352.4,3152.5L354.7,3156.9L357.3,3152.5L359.6,3158.3L363.4,3168.5L368.3,3156.9L370.4,3159.8L373.3,3169.1L378.5,3164.1L382.9,3167L387.2,3169.1L390.7,3154L393,3148.7L395.9,3156.9L400.3,3159.8L403.2,3162.7L406.1,3156.9L409,3162.7L411.9,3157.4L414.8,3163.3L417.7,3167L421.5,3165L425,3168.5L427.9,3159.8L432.3,3148.7L436.1,3158.3L441,3165.6L445.3,3171.4L449.7,3159.8L454.1,3148.1L458.4,3141.8L461.3,3155.4L465.1,3169.1L468.6,3164.1L472.1,3169.9L475.9,3159.8L479.6,3155.4L481.7,3146.7L484.6,3142.3L486.6,3149.6L489.5,3146.7L491.8,3138L495.3,3149.6L499.1,3162.7L502,3169.1L504.9,3158.3L507.8,3146.7L510.7,3133.6L513.6,3149.6L517.4,3164.1L520.3,3162.7L523.2,3158.3L526.7,3154L529,3149.6L532.5,3161.2L536,3146.7L538.9,3142.3L542.7,3133.6L545.6,3146.7L548.5,3161.2L550.5,3156.9L553.4,3162.7L555.8,3156.9L558.7,3162.7L561,3168.5L566.8,3165L572.6,3171.4L578.4,3165L581.9,3171.4L585.7,3146.7L589.5,3138L593,3158.3L596.5,3165.6L600.2,3156.3L604.6,3168.5L608.1,3171.4L612.7,3154L616.2,3145.2L619.7,3149.6L623.5,3162.7L627.8,3168.5L632.2,3148.7L635.1,3155.4L637.1,3153.4L639.5,3154.5L642.4,3149.6L647.6,3156.9L653.4,3163.3L659.8,3169.1L667.1,3172L674.9,3168.5L680.1,3164.1L683,3165.6L688.3,3155.4L692.3,3148.7L696.1,3158.3L699,3161.2L701.9,3156.9L704.8,3165.6L709.2,3171.4L713.6,3162.7L719.4,3148.7L723.7,3156.9L728.1,3162.7L733,3156.9L736.8,3159.2L739.7,3152.5L743.5,3148.7L746.4,3154L749.3,3169.1L752.8,3168.5L758.6,3156.9L760.9,3158.3L765.9,3148.7L770.2,3158.3L776,3171.4L781.8,3169.1L787.7,3165.6L790,3148.7L793.5,3154L795.8,3168.5L798.7,3165.6L802.2,3164.1L805.1,3169.9L809.4,3164.1L813.2,3169.9L816.7,3159.8L819.6,3156.3L822.5,3161.2L825.4,3162.1L828.3,3156.9L831.2,3146.7L833.6,3133.6L836.5,3149.6L839.4,3162.7L844.3,3165.6L851,3169.5L856.8,3172L868.4,3167.9L877.7,3165L881.5,3169.9L884.4,3138L886.5,3130.7L889.4,3138L893.1,3168.5L897.5,3171.4L901.9,3167L904.8,3165L908.5,3171.4L912,3167L914.3,3165L917.3,3171.4L920.2,3156.3L924.2,3141.8L926.6,3154L930,3162.7L933.8,3154L936.7,3145.2L938.8,3148.1L941.1,3141.8L944,3151.1L948.3,3161.2L951.3,3162.7L955,3149.6L958.5,3152.5L961.4,3162.7L965.8,3151.1L970.1,3141.8L973,3142.3L976.5,3148.1L981.2,3161.2L986.1,3167L989.9,3161.2L993.4,3149.6L996.9,3162.7L1000.6,3171.4L1005.6,3161.2L1007.9,3154L1010.8,3126.4L1013.7,3141.8L1016.6,3155.4L1019.5,3158.3L1022.4,3162.7L1024.8,3167L1027.7,3156.9L1029.7,3148.1L1031.7,3141.8L1034.6,3134.2L1037,3142.3L1039.9,3162.7L1042.8,3171.4L1046.3,3157.4L1049.2,3165L1053,3162.7L1055.9,3161.2L1058.8,3164.1L1062.5,3170.8L1066,3154L1068.9,3138L1072.4,3142.3L1075.3,3154L1079.1,3168.5L1082,3171.4L1088.7,3165L1092.8,3169.9L1099.4,3165.6L1103.8,3133.6L1108.2,3138L1110.2,3151.1L1112.5,3143.8L1115.4,3130.7L1117.8,3122L1119.8,3123.4L1122.7,3133.6L1125.6,3136.5L1128.5,3146.7L1132.3,3161.2L1134.3,3167L1137.2,3169.9L1141,3159.8L1144.5,3165.6L1147.4,3171.4L1151.2,3162.7L1154.9,3161.2L1157.9,3162.7L1161.3,3153.4L1164.8,3158.3L1168.6,3171.4L1173.5,3165.6L1178.2,3145.2L1181.7,3162.7L1184.6,3156.9L1187.5,3158.3L1190.4,3162.7L1193.9,3161.2L1196.8,3156.9L1199.1,3159.2L1202,3148.1L1204.3,3145.2L1207.8,3154L1212.2,3165.6L1216,3171.4L1220.9,3162.7L1227.6,3153.4L1233.4,3158.3L1238.3,3154L1241.3,3155.4L1243.3,3149.6L1246.2,3140.9L1249.1,3154L1252.9,3162.7L1258.7,3156.9L1263,3168.5L1273.2,3172L1283.4,3165.6L1289.2,3138L1292.1,3142.3L1295,3149.6L1297.9,3149.6L1300.2,3158.3L1303.1,3149.6L1306.6,3150.5L1309.5,3165.6L1313,3171.4L1316.8,3164.1L1319.7,3169.9L1322.6,3149.6L1326.4,3133.6L1329.3,3138L1332.8,3161.2L1338,3172L1344.4,3164.1L1350.2,3172L1356,3168.5L1361.3,3154L1366.2,3138L1370.6,3155.4L1374,3169.9L1377.8,3168.5L1380.7,3146.7L1384.5,3141.8L1387.4,3143.8L1390.3,3130.7L1393.2,3078.4L1396.1,3037.7L1398.2,3034.2L1400.2,3063.9L1402.5,3113.3L1405.4,3142.3L1407.8,3130.1L1409.8,3142.3L1412.7,3143.8L1415.6,3138L1418.5,3146.7L1420.5,3158.3L1422.9,3171.4L1424,3172.5Z"/>
<path d="M271,3326.8L271,3280.3L273.3,3283.3L275.4,3294.9L277.4,3300.7L279.1,3294.9L280.9,3288.2L282.6,3294.9L284.4,3288.2L286.1,3302.1L287.9,3310.9L289.9,3318.1L294.2,3325.4L300.1,3317.2L305.3,3325.4L310.2,3315.2L314,3307.4L316,3310.9L318.1,3293.4L320.4,3299.2L322.7,3302.7L324.8,3319.6L327.7,3325.4L333.5,3317.2L340.2,3325.4L344.2,3319.6L348,3307.4L351.8,3312.3L353.8,3325.4L358.2,3305L362.5,3293.4L365.4,3302.1L367.5,3316.7L369.8,3307.9L372.1,3310.9L376.2,3307.4L380,3325.4L383.7,3305L387.2,3288.2L390.7,3315.2L396.5,3307.4L400.3,3319L405.2,3313.8L409.9,3299.2L414,3288.2L417.7,3313.8L420.6,3325.4L428.5,3317.2L436.1,3325.4L440.1,3307.4L451.2,3321L458.4,3325.4L464.2,3321.9L471.5,3293.4L475.9,3319.6L480.2,3325.4L484.6,3322.5L489.5,3310.9L492.4,3305L494.7,3283.3L497.7,3295.7L500,3288.2L502,3302.1L506.4,3325.4L509.3,3310.9L511.6,3307.4L515.1,3310.9L518.6,3307.4L520.9,3315.2L523.2,3319.6L528.2,3307.4L532.5,3321L535.4,3325.4L543.6,3317.2L548.5,3325.4L554.3,3297.8L557.2,3300.7L559.3,3297.8L561,3305.8L564.5,3325.4L570.3,3317.2L576.1,3325.4L582.8,3307.4L586.6,3310.9L589.5,3325.4L593.5,3315.2L598.2,3307.4L601.1,3321L603.1,3312.3L606,3307.4L610.4,3319.6L615.6,3325.4L619.7,3316.7L623.5,3288.2L626.4,3297.8L628.4,3302.1L630.2,3316.7L633.1,3297.8L637.1,3309.4L643.8,3325.4L648.2,3322.5L654,3316.7L659.8,3325.4L665.6,3307.4L669.1,3310.9L672.9,3307.4L675.8,3310.9L678.7,3325.4L685.4,3317.2L688.9,3319.6L695.2,3307.4L701.1,3319.6L705.7,3317.2L710.6,3322.5L717.9,3325.4L725.2,3322.5L731,3317.2L735.3,3321.9L741.2,3325.4L747,3321L749.9,3315.2L753.4,3297.8L756.3,3302.1L758.6,3306.5L761.5,3303.6L763.8,3316.7L765.9,3297.8L767.9,3300.7L769.6,3297.8L773.1,3316.7L775.4,3325.4L781.8,3310.9L784.7,3305L789.1,3302.1L792,3310.9L794.9,3307.4L797.8,3310.9L800.7,3302.1L802.8,3305L805.1,3302.1L807.4,3315.2L810.9,3308.5L813.8,3310.9L816.7,3319.6L821.1,3307.4L824,3319.6L826.9,3325.4L831.2,3316.7L834.7,3325.4L838.5,3310.9L842.3,3302.1L847.2,3283.3L851,3298.5L853.3,3310.9L856.2,3321L859.1,3316.7L862,3312.3L864.9,3315.2L868.4,3307.9L871.9,3297.8L875.7,3302.1L879.5,3320.2L882.4,3310.9L885.9,3307.4L888.2,3313.8L890.2,3312.3L894,3317.2L898.1,3325.4L902.7,3310.9L906.2,3278.9L908.5,3293.4L910.6,3305L913.5,3315.2L918.4,3307.4L922.2,3310.9L925.1,3320.2L928,3312.3L930,3315.2L931.8,3312.3L935.3,3321L941.7,3325.4L946.9,3317.2L952.1,3297.8L956.2,3310.9L959.1,3318.1L962.9,3325.4L965.8,3310.9L968.7,3297.8L973,3302.1L976.5,3307.4L980.3,3325.4L987,3307.4L989.9,3312.3L992.8,3325.4L999.2,3317.2L1001.5,3319.6L1006.5,3307.4L1010.8,3310.9L1014.3,3315.2L1018.1,3302.1L1021,3293.4L1024.8,3310.9L1026.8,3315.2L1029.7,3312.3L1031.7,3316.7L1034.6,3312.3L1038.4,3305L1042.8,3297.8L1045.1,3310.9L1048.6,3302.1L1050.9,3305L1053,3297.8L1057.3,3305L1060.2,3310.9L1063.1,3307.4L1066.6,3310.9L1069.5,3325.4L1074.7,3297.8L1077.7,3325.4L1080.6,3299.2L1083.5,3297.8L1085.8,3316.7L1088.7,3325.4L1092.2,3317.2L1096.5,3325.4L1100.9,3307.4L1106.7,3325.4L1109.6,3310.9L1114,3293.4L1116,3310.9L1118.3,3302.1L1122.7,3293.4L1125.6,3315.2L1130,3307.4L1134.3,3315.2L1138.1,3307.9L1141,3310.9L1143.3,3315.2L1145.4,3307.4L1147.4,3313.8L1149.1,3315.2L1152.6,3297.8L1156.1,3307.9L1161.3,3325.4L1167.7,3317.2L1175.9,3325.4L1181.7,3317.2L1184.6,3305L1187.5,3297.8L1191.9,3307.4L1193.9,3315.2L1197.7,3310.9L1200.6,3307.4L1203.5,3310.9L1208.4,3288.2L1212.2,3307.9L1216,3325.4L1222.9,3317.2L1226.7,3321L1231.1,3317.2L1236.3,3325.4L1239.8,3290.5L1242.1,3281.8L1244.2,3278.9L1246.2,3299.2L1249.1,3317.2L1261.6,3325.4L1273.2,3317.2L1276.1,3307.4L1279,3315.2L1281.9,3325.4L1286.3,3319.6L1290.6,3312.3L1294.4,3317.2L1297.3,3325.4L1301.4,3317.2L1306.6,3310.9L1309.5,3302.1L1311.9,3305L1313.9,3302.7L1315.9,3310.9L1318.3,3321L1322.6,3317.2L1327,3321L1330.5,3317.2L1335.1,3325.4L1338.6,3305L1341.5,3297.8L1344.4,3306.5L1347.3,3298.7L1350.2,3307.4L1352.5,3325.4L1356,3317.2L1362.4,3325.4L1367.7,3318.1L1372.9,3307.4L1377.8,3319.6L1379.9,3325.4L1383.6,3307.9L1386.5,3283.3L1389.4,3273.1L1391.5,3246.9L1393.8,3212.1L1396.7,3187.9L1399,3217.9L1401.1,3270.2L1403.1,3302.1L1405.4,3310.9L1408.3,3297.8L1411.2,3305L1414.1,3273.1L1417.6,3230.9L1420,3249.8L1422.3,3287.6L1424,3326.8Z"/>
</g>
<g stroke="#808080" stroke-width="1.3" fill="none">
<path d="M259.2,102.7H270.8V241.4H259.2"/>
<path d="M259.2,257H270.8V395.7H259.2"/>
<path d="M259.2,411.2H270.8V549.9H259.2"/>
<path d="M259.2,565.5H270.8V704.2H259.2"/>
<path d="M259.2,719.7H270.8V858.4H259.2"/>
<path d="M259.2,874H270.8V1012.7H259.2"/>
<path d="M259.2,1028.3H270.8V1167H259.2"/>
<path d="M259.2,1182.5H270.8V1321.2H259.2"/>
<path d="M259.2,1336.8H270.8V1475.5H259.2"/>
<path d="M259.2,1491H270.8V1629.7H259.2"/>
<path d="M259.2,1645.3H270.8V1784H259.2"/>
<path d="M259.2,1799.6H270.8V1938.3H259.2"/>
<path d="M259.2,1953.8H270.8V2092.5H259.2"/>
<path d="M259.2,2108.1H270.8V2246.8H259.2"/>
<path d="M259.2,2262.3H270.8V2401H259.2"/>
<path d="M259.2,2416.6H270.8V2555.3H259.2"/>
<path d="M259.2,2570.9H270.8V2709.6H259.2"/>
<path d="M259.2,2725.1H270.8V2863.8H259.2"/>
<path d="M259.2,2879.4H270.8V3018.1H259.2"/>
<path d="M259.2,3033.6H270.8V3172.3H259.2"/>
<path d="M259.2,3187.9H270.8V3326.6H259.2"/>
</g>
<g font-family="Liberation Sans, Arial, sans-serif" font-size="12.5" fill="#000" text-anchor="end">
<text x="252.2" y="106">58</text><text x="252.2" y="244.9">0</text>
<text x="252.2" y="260.3">53</text><text x="252.2" y="399.2">0</text>
<text x="252.2" y="414.5">57</text><text x="252.2" y="553.4">0</text>
<text x="252.2" y="568.8">19</text><text x="252.2" y="707.7">0</text>
<text x="252.2" y="723">57</text><text x="252.2" y="861.9">0</text>
<text x="252.2" y="877.3">66</text><text x="252.2" y="1016.2">0</text>
<text x="252.2" y="1031.6">78</text><text x="252.2" y="1170.5">0</text>
<text x="252.2" y="1185.8">4</text><text x="252.2" y="1324.7">0</text>
<text x="252.2" y="1340.1">13</text><text x="252.2" y="1479">0</text>
<text x="252.2" y="1494.3">10</text><text x="252.2" y="1633.2">0</text>
<text x="252.2" y="1648.6">16</text><text x="252.2" y="1787.5">0</text>
<text x="252.2" y="1802.9">5</text><text x="252.2" y="1941.8">0</text>
<text x="252.2" y="1957.1">71</text><text x="252.2" y="2096">0</text>
<text x="252.2" y="2111.4">69</text><text x="252.2" y="2250.3">0</text>
<text x="252.2" y="2265.6">44</text><text x="252.2" y="2404.5">0</text>
<text x="252.2" y="2419.9">58</text><text x="252.2" y="2558.8">0</text>
<text x="252.2" y="2574.2">6</text><text x="252.2" y="2713.1">0</text>
<text x="252.2" y="2728.4">28</text><text x="252.2" y="2867.3">0</text>
<text x="252.2" y="2882.7">13</text><text x="252.2" y="3021.6">0</text>
<text x="252.2" y="3036.9">16</text><text x="252.2" y="3175.8">0</text>
<text x="252.2" y="3191.2">18</text><text x="252.2" y="3330.1">0</text>
</g>
<g font-family="Liberation Sans, Arial, sans-serif" font-size="24" letter-spacing="-0.2" fill="#000">
<text x="73.3" y="178.2">GSM6482057</text>
<text x="73.3" y="332.5">GSM6482056</text>
<text x="73.3" y="486.8">GSM6482055</text>
<text x="73.3" y="641">GSM6482054</text>
<text x="73.3" y="795.3">GSM6482053</text>
<text x="73.3" y="949.5">GSM6482052</text>
<text x="73.3" y="1103.8">GSM6482051</text>
<text x="73.3" y="1258.1">GSM6482050</text>
<text x="73.3" y="1412.3">GSM6482049</text>
<text x="73.3" y="1566.6">GSM6482048</text>
<text x="73.3" y="1720.8">GSM6482047</text>
<text x="73.3" y="1875.1">GSM6482046</text>
<text x="73.3" y="2029.4">GSM6482045</text>
<text x="73.3" y="2183.6">GSM6482044</text>
<text x="73.3" y="2337.9">GSM6482043</text>
<text x="73.3" y="2492.1">GSM6482042</text>
<text x="73.3" y="2646.4">GSM6482041</text>
<text x="73.3" y="2800.7">GSM6482079</text>
<text x="73.3" y="2954.9">GSM6482078</text>
<text x="73.3" y="3109.2">GSM6482077</text>
<text x="73.3" y="3263.4">GSM6482076</text>
</g>
<g stroke="#4d4d4d" stroke-width="1" fill="none">
<path d="M271,3579.5H1424M271,3631.5H1424"/>
<path d="M291.5,3631.1V3658.2"/>
<path d="M357.5,3631.1V3698.5"/>
<path d="M424.5,3631.1V3658.2"/>
<path d="M490.5,3631.1V3658.2"/>
<path d="M557.5,3631.1V3658.2"/>
<path d="M623.5,3631.1V3658.2"/>
<path d="M689.5,3631.1V3698.5"/>
<path d="M756.5,3631.1V3658.2"/>
<path d="M822.5,3631.1V3658.2"/>
<path d="M888.5,3631.1V3658.2"/>
<path d="M955.5,3631.1V3658.2"/>
<path d="M1021.5,3631.1V3698.5"/>
<path d="M1087.5,3631.1V3658.2"/>
<path d="M1154.5,3631.1V3658.2"/>
<path d="M1220.5,3631.1V3658.2"/>
<path d="M1287.5,3631.1V3658.2"/>
<path d="M1353.5,3631.1V3698.5"/>
<path d="M1419.5,3631.1V3658.2"/>
</g>
<g font-family="Liberation Sans, Arial, sans-serif" font-size="24.5" fill="#000" text-anchor="middle">
<text x="358" y="3716.8">247.3Mb</text>
<text x="689.8" y="3716.8">247.31Mb</text>
<text x="1021.6" y="3716.8">247.32Mb</text>
<text x="1353.4" y="3716.8">247.33Mb</text>
</g>
<text x="88.6" y="3622.8" font-family="Liberation Sans, Arial, sans-serif" font-size="46.5" fill="#000">chr1</text>
</svg></body></html>
